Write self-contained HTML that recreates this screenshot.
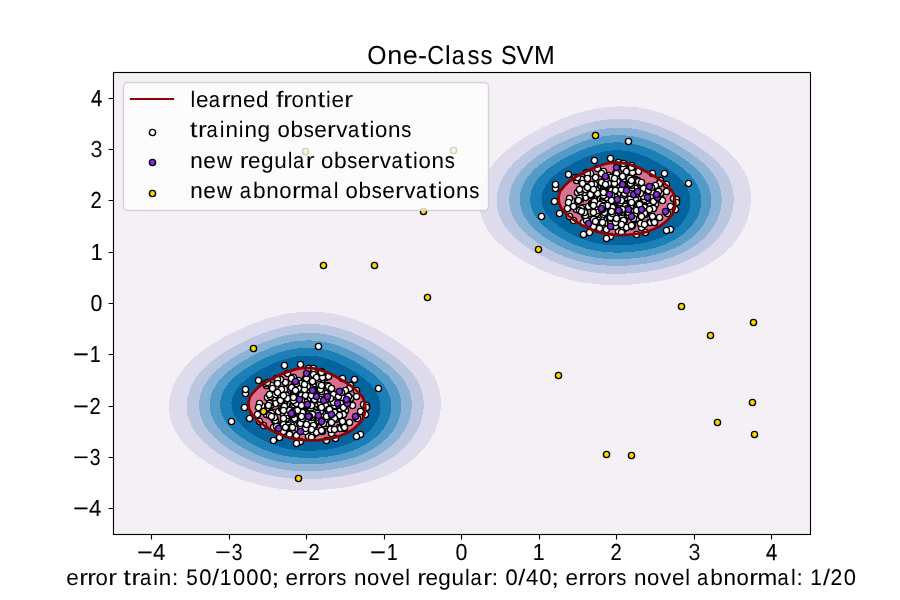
<!DOCTYPE html>
<html><head><meta charset="utf-8"><title>One-Class SVM</title>
<style>
html,body{margin:0;padding:0;background:#fff;}
body{width:900px;height:600px;overflow:hidden;}
svg{display:block;}
text{font-family:"Liberation Sans",sans-serif;font-size:22.4px;fill:#000;text-rendering:geometricPrecision;}
text.k{font-size:23.2px;}
</style></head>
<body>
<svg style="will-change:transform" width="900" height="600" viewBox="0 0 900 600">
<defs><clipPath id="ax"><rect x="112.5" y="72" width="697.5" height="462"/></clipPath></defs>
<rect width="900" height="600" fill="#fff"/>
<g clip-path="url(#ax)">
<g shape-rendering="crispEdges" stroke-width="1.2">
<path fill="#f5eff6" stroke="#f5eff6" d="M43.61 585.33L52.22 585.33L60.83 585.33L69.44 585.33L78.06 585.33L86.67 585.33L95.28 585.33L103.89 585.33L112.5 585.33L121.11 585.33L129.72 585.33L138.33 585.33L146.94 585.33L155.56 585.33L164.17 585.33L172.78 585.33L181.39 585.33L190 585.33L198.61 585.33L207.22 585.33L215.83 585.33L224.44 585.33L233.06 585.33L241.67 585.33L250.28 585.33L258.89 585.33L267.5 585.33L276.11 585.33L284.72 585.33L293.33 585.33L301.94 585.33L310.56 585.33L319.17 585.33L327.78 585.33L336.39 585.33L345 585.33L353.61 585.33L362.22 585.33L370.83 585.33L379.44 585.33L388.06 585.33L396.67 585.33L405.28 585.33L413.89 585.33L422.5 585.33L431.11 585.33L439.72 585.33L448.33 585.33L456.94 585.33L465.56 585.33L474.17 585.33L482.78 585.33L491.39 585.33L500 585.33L508.61 585.33L517.22 585.33L525.83 585.33L534.44 585.33L543.06 585.33L551.67 585.33L560.28 585.33L568.89 585.33L577.5 585.33L586.11 585.33L594.72 585.33L603.33 585.33L611.94 585.33L620.56 585.33L629.17 585.33L637.78 585.33L646.39 585.33L655 585.33L663.61 585.33L672.22 585.33L680.83 585.33L689.44 585.33L698.06 585.33L706.67 585.33L715.28 585.33L723.89 585.33L732.5 585.33L741.11 585.33L749.72 585.33L758.33 585.33L766.94 585.33L775.56 585.33L784.17 585.33L792.78 585.33L801.39 585.33L810 585.33L818.61 585.33L827.22 585.33L835.83 585.33L844.44 585.33L853.06 585.33L861.67 585.33L870.28 585.33L878.89 585.33L887.5 585.33L887.5 579.63L887.5 573.93L887.5 568.22L887.5 562.52L887.5 556.81L887.5 551.11L887.5 545.41L887.5 539.7L887.5 534L887.5 528.3L887.5 522.59L887.5 516.89L887.5 511.19L887.5 505.48L887.5 499.78L887.5 494.07L887.5 488.37L887.5 482.67L887.5 476.96L887.5 471.26L887.5 465.56L887.5 459.85L887.5 454.15L887.5 448.44L887.5 442.74L887.5 437.04L887.5 431.33L887.5 425.63L887.5 419.93L887.5 414.22L887.5 408.52L887.5 402.81L887.5 397.11L887.5 391.41L887.5 385.7L887.5 380L887.5 374.3L887.5 368.59L887.5 362.89L887.5 357.19L887.5 351.48L887.5 345.78L887.5 340.07L887.5 334.37L887.5 328.67L887.5 322.96L887.5 317.26L887.5 311.56L887.5 305.85L887.5 300.15L887.5 294.44L887.5 288.74L887.5 283.04L887.5 277.33L887.5 271.63L887.5 265.93L887.5 260.22L887.5 254.52L887.5 248.81L887.5 243.11L887.5 237.41L887.5 231.7L887.5 226L887.5 220.3L887.5 214.59L887.5 208.89L887.5 203.19L887.5 197.48L887.5 191.78L887.5 186.07L887.5 180.37L887.5 174.67L887.5 168.96L887.5 163.26L887.5 157.56L887.5 151.85L887.5 146.15L887.5 140.44L887.5 134.74L887.5 129.04L887.5 123.33L887.5 117.63L887.5 111.93L887.5 106.22L887.5 100.52L887.5 94.81L887.5 89.11L887.5 83.41L887.5 77.7L887.5 72L887.5 66.3L887.5 60.59L887.5 54.89L887.5 49.19L887.5 43.48L887.5 37.78L887.5 32.07L887.5 26.37L887.5 20.67L878.89 20.67L870.28 20.67L861.67 20.67L853.06 20.67L844.44 20.67L835.83 20.67L827.22 20.67L818.61 20.67L810 20.67L801.39 20.67L792.78 20.67L784.17 20.67L775.56 20.67L766.94 20.67L758.33 20.67L749.72 20.67L741.11 20.67L732.5 20.67L723.89 20.67L715.28 20.67L706.67 20.67L698.06 20.67L689.44 20.67L680.83 20.67L672.22 20.67L663.61 20.67L655 20.67L646.39 20.67L637.78 20.67L629.17 20.67L620.56 20.67L611.94 20.67L603.33 20.67L594.72 20.67L586.11 20.67L577.5 20.67L568.89 20.67L560.28 20.67L551.67 20.67L543.06 20.67L534.44 20.67L525.83 20.67L517.22 20.67L508.61 20.67L500 20.67L491.39 20.67L482.78 20.67L474.17 20.67L465.56 20.67L456.94 20.67L448.33 20.67L439.72 20.67L431.11 20.67L422.5 20.67L413.89 20.67L405.28 20.67L396.67 20.67L388.06 20.67L379.44 20.67L370.83 20.67L362.22 20.67L353.61 20.67L345 20.67L336.39 20.67L327.78 20.67L319.17 20.67L310.56 20.67L301.94 20.67L293.33 20.67L284.72 20.67L276.11 20.67L267.5 20.67L258.89 20.67L250.28 20.67L241.67 20.67L233.06 20.67L224.44 20.67L215.83 20.67L207.22 20.67L198.61 20.67L190 20.67L181.39 20.67L172.78 20.67L164.17 20.67L155.56 20.67L146.94 20.67L138.33 20.67L129.72 20.67L121.11 20.67L112.5 20.67L103.89 20.67L95.28 20.67L86.67 20.67L78.06 20.67L69.44 20.67L60.83 20.67L52.22 20.67L43.61 20.67L35 20.67L35 26.37L35 32.07L35 37.78L35 43.48L35 49.19L35 54.89L35 60.59L35 66.3L35 72L35 77.7L35 83.41L35 89.11L35 94.81L35 100.52L35 106.22L35 111.93L35 117.63L35 123.33L35 129.04L35 134.74L35 140.44L35 146.15L35 151.85L35 157.56L35 163.26L35 168.96L35 174.67L35 180.37L35 186.07L35 191.78L35 197.48L35 203.19L35 208.89L35 214.59L35 220.3L35 226L35 231.7L35 237.41L35 243.11L35 248.81L35 254.52L35 260.22L35 265.93L35 271.63L35 277.33L35 283.04L35 288.74L35 294.44L35 300.15L35 305.85L35 311.56L35 317.26L35 322.96L35 328.67L35 334.37L35 340.07L35 345.78L35 351.48L35 357.19L35 362.89L35 368.59L35 374.3L35 380L35 385.7L35 391.41L35 397.11L35 402.81L35 408.52L35 414.22L35 419.93L35 425.63L35 431.33L35 437.04L35 442.74L35 448.44L35 454.15L35 459.85L35 465.56L35 471.26L35 476.96L35 482.67L35 488.37L35 494.07L35 499.78L35 505.48L35 511.19L35 516.89L35 522.59L35 528.3L35 534L35 539.7L35 545.41L35 551.11L35 556.81L35 562.52L35 568.22L35 573.93L35 579.63L35 585.33ZM282.61 488.37L276.11 487.66L267.5 486.27L258.89 484.3L253.47 482.67L250.28 481.82L241.67 478.98L236.76 476.96L233.06 475.52L224.44 471.46L224.06 471.26L215.83 467.03L213.29 465.56L207.22 461.87L204.14 459.85L198.61 455.86L196.32 454.15L190 448.59L189.84 448.44L184.08 442.74L181.39 439.2L179.61 437.04L175.93 431.33L173.41 425.63L172.78 423.58L171.4 419.93L170.09 414.22L169.55 408.52L169.68 402.81L170.5 397.11L172.04 391.41L172.78 389.56L174.01 385.7L176.55 380L180.14 374.3L181.39 372.68L184.24 368.59L189.51 362.89L190 362.43L195.39 357.19L198.61 354.57L202.5 351.48L207.22 348.15L210.77 345.78L215.83 342.6L220.2 340.07L224.44 337.65L230.85 334.37L233.06 333.22L241.67 329.16L242.83 328.67L250.28 325.3L256.64 322.96L258.89 322.06L267.5 319.09L274.54 317.26L276.11 316.79L284.72 314.73L293.33 313.35L301.94 312.56L310.56 312.3L319.17 312.55L327.78 313.37L336.39 314.84L345 317.14L345.36 317.26L353.61 319.73L361.46 322.96L362.22 323.26L370.83 327.13L373.77 328.67L379.44 331.56L384.36 334.37L388.06 336.47L393.92 340.07L396.67 341.8L402.66 345.78L405.28 347.63L410.55 351.48L413.89 354.23L417.45 357.19L422.5 362.25L423.15 362.89L428.23 368.59L431.11 372.99L432.06 374.3L435.39 380L437.66 385.7L439.13 391.41L439.72 395.41L440.05 397.11L440.45 402.81L440.18 408.52L439.72 411.42L439.39 414.22L438.23 419.93L436.51 425.63L434.11 431.33L431.11 436.61L430.91 437.04L427.59 442.74L423.04 448.44L422.5 449.03L418.03 454.15L413.89 457.87L411.63 459.85L405.28 464.56L403.81 465.56L396.67 469.91L394.05 471.26L388.06 474.27L381.22 476.96L379.44 477.69L370.83 480.68L363.04 482.67L362.22 482.91L353.61 485.03L345 486.6L336.39 487.74L329.91 488.37L327.78 488.64L319.17 489.37L310.56 489.75L301.94 489.78L293.33 489.44L284.72 488.67ZM592.61 283.04L586.11 282.32L577.5 280.94L568.89 278.96L563.47 277.33L560.28 276.49L551.67 273.65L546.76 271.63L543.06 270.19L534.44 266.12L534.06 265.93L525.83 261.69L523.3 260.22L517.22 256.54L514.14 254.52L508.61 250.53L506.33 248.81L500 243.25L499.84 243.11L494.08 237.41L491.39 233.87L489.61 231.7L485.93 226L483.41 220.3L482.78 218.24L481.4 214.59L480.09 208.89L479.55 203.19L479.68 197.48L480.5 191.78L482.04 186.07L482.78 184.23L484.01 180.37L486.55 174.67L490.14 168.96L491.39 167.35L494.24 163.26L499.51 157.56L500 157.09L505.39 151.85L508.61 149.24L512.5 146.15L517.22 142.81L520.77 140.44L525.83 137.26L530.2 134.74L534.44 132.32L540.85 129.04L543.06 127.88L551.67 123.83L552.83 123.33L560.28 119.97L566.64 117.63L568.89 116.72L577.5 113.75L584.54 111.93L586.11 111.45L594.72 109.39L603.33 108.02L611.94 107.23L620.56 106.96L629.17 107.22L637.78 108.04L646.39 109.51L655 111.8L655.36 111.93L663.61 114.4L671.46 117.63L672.22 117.93L680.83 121.79L683.77 123.33L689.44 126.23L694.36 129.04L698.06 131.14L703.91 134.74L706.67 136.47L712.66 140.44L715.28 142.29L720.55 146.15L723.89 148.9L727.45 151.85L732.5 156.92L733.15 157.56L738.23 163.26L741.11 167.66L742.06 168.96L745.39 174.67L747.66 180.37L749.13 186.07L749.72 190.08L750.05 191.78L750.45 197.48L750.18 203.19L749.72 206.07L749.39 208.89L748.22 214.59L746.51 220.3L744.11 226L741.11 231.27L740.9 231.7L737.58 237.41L733.04 243.11L732.5 243.69L728.02 248.81L723.89 252.53L721.63 254.52L715.28 259.23L713.8 260.22L706.67 264.58L704.05 265.93L698.06 268.93L691.21 271.63L689.44 272.36L680.83 275.35L673.04 277.33L672.22 277.57L663.61 279.7L655 281.26L646.39 282.41L639.91 283.04L637.78 283.3L629.17 284.04L620.56 284.42L611.94 284.45L603.33 284.1L594.72 283.33Z"/>
<path fill="#dedcec" stroke="#dedcec" d="M284.72 488.67L293.33 489.44L301.94 489.78L310.56 489.75L319.17 489.37L327.78 488.64L329.91 488.37L336.39 487.74L345 486.6L353.61 485.03L362.22 482.91L363.04 482.67L370.83 480.68L379.44 477.69L381.22 476.96L388.06 474.27L394.05 471.26L396.67 469.91L403.81 465.56L405.28 464.56L411.63 459.85L413.89 457.87L418.03 454.15L422.5 449.03L423.04 448.44L427.59 442.74L430.91 437.04L431.11 436.61L434.11 431.33L436.51 425.63L438.23 419.93L439.39 414.22L439.72 411.42L440.18 408.52L440.45 402.81L440.05 397.11L439.72 395.41L439.13 391.41L437.66 385.7L435.39 380L432.06 374.3L431.11 372.99L428.23 368.59L423.15 362.89L422.5 362.25L417.45 357.19L413.89 354.23L410.55 351.48L405.28 347.63L402.66 345.78L396.67 341.8L393.92 340.07L388.06 336.47L384.36 334.37L379.44 331.56L373.77 328.67L370.83 327.13L362.22 323.26L361.46 322.96L353.61 319.73L345.36 317.26L345 317.14L336.39 314.84L327.78 313.37L319.17 312.55L310.56 312.3L301.94 312.56L293.33 313.35L284.72 314.73L276.11 316.79L274.54 317.26L267.5 319.09L258.89 322.06L256.64 322.96L250.28 325.3L242.83 328.67L241.67 329.16L233.06 333.22L230.85 334.37L224.44 337.65L220.2 340.07L215.83 342.6L210.77 345.78L207.22 348.15L202.5 351.48L198.61 354.57L195.39 357.19L190 362.43L189.51 362.89L184.24 368.59L181.39 372.68L180.14 374.3L176.55 380L174.01 385.7L172.78 389.56L172.04 391.41L170.5 397.11L169.68 402.81L169.55 408.52L170.09 414.22L171.4 419.93L172.78 423.58L173.41 425.63L175.93 431.33L179.61 437.04L181.39 439.2L184.08 442.74L189.84 448.44L190 448.59L196.32 454.15L198.61 455.86L204.14 459.85L207.22 461.87L213.29 465.56L215.83 467.03L224.06 471.26L224.44 471.46L233.06 475.52L236.76 476.96L241.67 478.98L250.28 481.82L253.47 482.67L258.89 484.3L267.5 486.27L276.11 487.66L282.61 488.37ZM283.2 476.96L276.11 475.98L267.5 474.25L258.89 471.85L257.15 471.26L250.28 469.03L241.92 465.56L241.67 465.45L233.06 461.41L230.16 459.85L224.44 456.63L220.47 454.15L215.83 451L212.32 448.44L207.22 444.19L205.54 442.74L199.97 437.04L198.61 435.3L195.44 431.33L192.07 425.63L190 420.53L189.73 419.93L188.04 414.22L187.26 408.52L187.29 402.81L188.12 397.11L189.8 391.41L190 390.95L192.02 385.7L195.15 380L198.61 375.34L199.36 374.3L204.35 368.59L207.22 365.93L210.57 362.89L215.83 358.79L218.03 357.19L224.44 352.9L226.74 351.48L233.06 347.76L236.76 345.78L241.67 343.18L248.24 340.07L250.28 339.1L258.89 335.42L261.76 334.37L267.5 332.17L276.11 329.54L279.83 328.67L284.72 327.4L293.33 325.84L301.94 324.96L310.56 324.72L319.17 325.14L327.78 326.25L336.39 328.15L338.1 328.67L345 330.62L353.61 333.92L354.61 334.37L362.22 337.73L366.77 340.07L370.83 342.17L377.13 345.78L379.44 347.13L386.35 351.48L388.06 352.61L394.57 357.19L396.67 358.8L401.74 362.89L405.28 366.24L407.72 368.59L412.57 374.3L413.89 376.27L416.5 380L419.43 385.7L421.38 391.41L422.5 396.9L422.55 397.11L423.13 402.81L422.95 408.52L422.5 411.39L422.13 414.22L420.79 419.93L418.8 425.63L416.01 431.33L413.89 434.67L412.49 437.04L408.22 442.74L405.28 445.87L402.82 448.44L396.67 453.65L396.03 454.15L388.06 459.51L387.47 459.85L379.44 464.13L376.14 465.56L370.83 467.8L362.22 470.64L359.9 471.26L353.61 473.04L345 474.91L336.39 476.28L330.56 476.96L327.78 477.34L319.17 478.12L310.56 478.51L301.94 478.51L293.33 478.1L284.72 477.21ZM594.72 283.33L603.33 284.1L611.94 284.45L620.56 284.42L629.17 284.04L637.78 283.3L639.91 283.04L646.39 282.41L655 281.26L663.61 279.7L672.22 277.57L673.04 277.33L680.83 275.35L689.44 272.36L691.21 271.63L698.06 268.93L704.05 265.93L706.67 264.58L713.8 260.22L715.28 259.23L721.63 254.52L723.89 252.53L728.02 248.81L732.5 243.69L733.04 243.11L737.58 237.41L740.9 231.7L741.11 231.27L744.11 226L746.51 220.3L748.22 214.59L749.39 208.89L749.72 206.07L750.18 203.19L750.45 197.48L750.05 191.78L749.72 190.08L749.13 186.07L747.66 180.37L745.39 174.67L742.06 168.96L741.11 167.66L738.23 163.26L733.15 157.56L732.5 156.92L727.45 151.85L723.89 148.9L720.55 146.15L715.28 142.29L712.66 140.44L706.67 136.47L703.91 134.74L698.06 131.14L694.36 129.04L689.44 126.23L683.77 123.33L680.83 121.79L672.22 117.93L671.46 117.63L663.61 114.4L655.36 111.93L655 111.8L646.39 109.51L637.78 108.04L629.17 107.22L620.56 106.96L611.94 107.23L603.33 108.02L594.72 109.39L586.11 111.45L584.54 111.93L577.5 113.75L568.89 116.72L566.64 117.63L560.28 119.97L552.83 123.33L551.67 123.83L543.06 127.88L540.85 129.04L534.44 132.32L530.2 134.74L525.83 137.26L520.77 140.44L517.22 142.81L512.5 146.15L508.61 149.24L505.39 151.85L500 157.09L499.51 157.56L494.24 163.26L491.39 167.35L490.14 168.96L486.55 174.67L484.01 180.37L482.78 184.23L482.04 186.07L480.5 191.78L479.68 197.48L479.55 203.19L480.09 208.89L481.4 214.59L482.78 218.24L483.41 220.3L485.93 226L489.61 231.7L491.39 233.87L494.08 237.41L499.84 243.11L500 243.25L506.33 248.81L508.61 250.53L514.14 254.52L517.22 256.54L523.3 260.22L525.83 261.69L534.06 265.93L534.44 266.12L543.06 270.19L546.76 271.63L551.67 273.65L560.28 276.49L563.47 277.33L568.89 278.96L577.5 280.94L586.11 282.32L592.61 283.04ZM593.19 271.63L586.11 270.64L577.5 268.91L568.89 266.52L567.15 265.93L560.28 263.69L551.92 260.22L551.67 260.12L543.06 256.08L540.16 254.52L534.44 251.29L530.47 248.81L525.83 245.66L522.32 243.11L517.22 238.86L515.54 237.41L509.97 231.7L508.61 229.97L505.44 226L502.07 220.3L500 215.2L499.73 214.59L498.04 208.89L497.26 203.19L497.29 197.48L498.12 191.78L499.8 186.07L500 185.62L502.02 180.37L505.15 174.67L508.61 170.01L509.36 168.96L514.35 163.26L517.22 160.59L520.57 157.56L525.83 153.46L528.03 151.85L534.44 147.57L536.74 146.15L543.06 142.43L546.75 140.44L551.67 137.84L558.24 134.74L560.28 133.77L568.89 130.09L571.76 129.04L577.5 126.84L586.11 124.21L589.83 123.33L594.72 122.07L603.33 120.51L611.94 119.63L620.56 119.39L629.17 119.8L637.78 120.91L646.39 122.82L648.1 123.33L655 125.29L663.61 128.59L664.61 129.04L672.22 132.39L676.77 134.74L680.83 136.84L687.12 140.44L689.44 141.8L696.35 146.15L698.06 147.28L704.57 151.85L706.67 153.47L711.74 157.56L715.28 160.91L717.72 163.26L722.57 168.96L723.89 170.93L726.5 174.67L729.43 180.37L731.38 186.07L732.5 191.57L732.55 191.78L733.12 197.48L732.95 203.19L732.5 206.04L732.13 208.89L730.79 214.59L728.79 220.3L726 226L723.89 229.33L722.48 231.7L718.22 237.41L715.28 240.53L712.82 243.11L706.67 248.32L706.03 248.81L698.06 254.18L697.47 254.52L689.44 258.79L686.14 260.22L680.83 262.46L672.22 265.31L669.91 265.93L663.61 267.71L655 269.58L646.39 270.95L640.57 271.63L637.78 272.01L629.17 272.79L620.56 273.18L611.94 273.18L603.33 272.76L594.72 271.87Z"/>
<path fill="#bbc7e0" stroke="#bbc7e0" d="M284.72 477.21L293.33 478.1L301.94 478.51L310.56 478.51L319.17 478.12L327.78 477.34L330.56 476.96L336.39 476.28L345 474.91L353.61 473.04L359.9 471.26L362.22 470.64L370.83 467.8L376.14 465.56L379.44 464.13L387.47 459.85L388.06 459.51L396.03 454.15L396.67 453.65L402.82 448.44L405.28 445.87L408.22 442.74L412.49 437.04L413.89 434.67L416.01 431.33L418.8 425.63L420.79 419.93L422.13 414.22L422.5 411.39L422.95 408.52L423.13 402.81L422.55 397.11L422.5 396.9L421.38 391.41L419.43 385.7L416.5 380L413.89 376.27L412.57 374.3L407.72 368.59L405.28 366.24L401.74 362.89L396.67 358.8L394.57 357.19L388.06 352.61L386.35 351.48L379.44 347.13L377.13 345.78L370.83 342.17L366.77 340.07L362.22 337.73L354.61 334.37L353.61 333.92L345 330.62L338.1 328.67L336.39 328.15L327.78 326.25L319.17 325.14L310.56 324.72L301.94 324.96L293.33 325.84L284.72 327.4L279.83 328.67L276.11 329.54L267.5 332.17L261.76 334.37L258.89 335.42L250.28 339.1L248.24 340.07L241.67 343.18L236.76 345.78L233.06 347.76L226.74 351.48L224.44 352.9L218.03 357.19L215.83 358.79L210.57 362.89L207.22 365.93L204.35 368.59L199.36 374.3L198.61 375.34L195.15 380L192.02 385.7L190 390.95L189.8 391.41L188.12 397.11L187.29 402.81L187.26 408.52L188.04 414.22L189.73 419.93L190 420.53L192.07 425.63L195.44 431.33L198.61 435.3L199.97 437.04L205.54 442.74L207.22 444.19L212.32 448.44L215.83 451L220.47 454.15L224.44 456.63L230.16 459.85L233.06 461.41L241.67 465.45L241.92 465.56L250.28 469.03L257.15 471.26L258.89 471.85L267.5 474.25L276.11 475.98L283.2 476.96ZM267.41 465.56L258.89 462.96L250.93 459.85L250.28 459.59L241.67 455.59L238.96 454.15L233.06 450.79L229.32 448.44L224.44 445.06L221.34 442.74L215.83 437.96L214.82 437.04L209.56 431.33L207.22 428.04L205.52 425.63L202.56 419.93L200.68 414.22L199.76 408.52L199.71 402.81L200.51 397.11L202.2 391.41L204.86 385.7L207.22 382.07L208.55 380L213.26 374.3L215.83 371.77L219.23 368.59L224.44 364.43L226.53 362.89L233.06 358.52L235.21 357.19L241.67 353.43L245.35 351.48L250.28 348.94L257.14 345.78L258.89 344.98L267.5 341.5L271.71 340.07L276.11 338.57L284.72 336.26L293.33 334.67L296.19 334.37L301.94 333.71L310.56 333.49L319.17 334.06L321.12 334.37L327.78 335.36L336.39 337.44L344.13 340.07L345 340.37L353.61 343.94L357.38 345.78L362.22 348.19L368.13 351.48L370.83 353.04L377.48 357.19L379.44 358.49L385.67 362.89L388.06 364.76L392.67 368.59L396.67 372.53L398.4 374.3L402.96 380L405.28 383.87L406.39 385.7L408.89 391.41L410.41 397.11L411.08 402.81L410.99 408.52L410.17 414.22L408.61 419.93L406.24 425.63L405.28 427.37L403.16 431.33L399.17 437.04L396.67 439.87L394.03 442.74L388.06 447.96L387.44 448.44L379.44 453.82L378.88 454.15L370.83 458.3L367.1 459.85L362.22 461.79L353.61 464.48L349.23 465.56L345 466.62L336.39 468.27L327.78 469.46L319.17 470.23L310.56 470.6L301.94 470.58L293.33 470.12L284.72 469.19L276.11 467.71L267.5 465.58ZM594.72 271.87L603.33 272.76L611.94 273.18L620.56 273.18L629.17 272.79L637.78 272.01L640.57 271.63L646.39 270.95L655 269.58L663.61 267.71L669.91 265.93L672.22 265.31L680.83 262.46L686.14 260.22L689.44 258.79L697.47 254.52L698.06 254.18L706.03 248.81L706.67 248.32L712.82 243.11L715.28 240.53L718.22 237.41L722.48 231.7L723.89 229.33L726 226L728.79 220.3L730.79 214.59L732.13 208.89L732.5 206.04L732.95 203.19L733.12 197.48L732.55 191.78L732.5 191.57L731.38 186.07L729.43 180.37L726.5 174.67L723.89 170.93L722.57 168.96L717.72 163.26L715.28 160.91L711.74 157.56L706.67 153.47L704.57 151.85L698.06 147.28L696.35 146.15L689.44 141.8L687.12 140.44L680.83 136.84L676.77 134.74L672.22 132.39L664.61 129.04L663.61 128.59L655 125.29L648.1 123.33L646.39 122.82L637.78 120.91L629.17 119.8L620.56 119.39L611.94 119.63L603.33 120.51L594.72 122.07L589.83 123.33L586.11 124.21L577.5 126.84L571.76 129.04L568.89 130.09L560.28 133.77L558.24 134.74L551.67 137.84L546.75 140.44L543.06 142.43L536.74 146.15L534.44 147.57L528.03 151.85L525.83 153.46L520.57 157.56L517.22 160.59L514.35 163.26L509.36 168.96L508.61 170.01L505.15 174.67L502.02 180.37L500 185.62L499.8 186.07L498.12 191.78L497.29 197.48L497.26 203.19L498.04 208.89L499.73 214.59L500 215.2L502.07 220.3L505.44 226L508.61 229.97L509.97 231.7L515.54 237.41L517.22 238.86L522.32 243.11L525.83 245.66L530.47 248.81L534.44 251.29L540.16 254.52L543.06 256.08L551.67 260.12L551.92 260.22L560.28 263.69L567.15 265.93L568.89 266.52L577.5 268.91L586.11 270.64L593.19 271.63ZM577.42 260.22L568.89 257.63L560.94 254.52L560.28 254.25L551.67 250.25L548.96 248.81L543.06 245.46L539.32 243.11L534.44 239.72L531.35 237.41L525.83 232.62L524.83 231.7L519.56 226L517.22 222.71L515.52 220.3L512.56 214.59L510.68 208.89L509.76 203.19L509.71 197.48L510.51 191.78L512.2 186.07L514.86 180.37L517.22 176.73L518.55 174.67L523.26 168.96L525.83 166.44L529.22 163.26L534.44 159.1L536.53 157.56L543.06 153.18L545.21 151.85L551.67 148.1L555.34 146.15L560.28 143.6L567.14 140.44L568.89 139.65L577.5 136.16L581.71 134.74L586.11 133.23L594.72 130.93L603.33 129.34L606.18 129.04L611.94 128.38L620.56 128.16L629.17 128.73L631.12 129.04L637.78 130.03L646.39 132.1L654.13 134.74L655 135.04L663.61 138.6L667.38 140.44L672.22 142.86L678.12 146.15L680.83 147.71L687.48 151.85L689.44 153.15L695.67 157.56L698.06 159.43L702.66 163.26L706.67 167.19L708.4 168.96L712.96 174.67L715.28 178.54L716.39 180.37L718.89 186.07L720.41 191.78L721.08 197.48L720.99 203.19L720.16 208.89L718.6 214.59L716.23 220.3L715.28 222.03L713.16 226L709.16 231.7L706.67 234.53L704.02 237.41L698.06 242.62L697.44 243.11L689.44 248.49L688.87 248.81L680.83 252.97L677.1 254.52L672.22 256.45L663.61 259.15L659.23 260.22L655 261.28L646.39 262.94L637.78 264.12L629.17 264.89L620.56 265.27L611.94 265.24L603.33 264.79L594.72 263.85L586.11 262.37L577.5 260.25Z"/>
<path fill="#8cb3d5" stroke="#8cb3d5" d="M267.5 465.58L276.11 467.71L284.72 469.19L293.33 470.12L301.94 470.58L310.56 470.6L319.17 470.23L327.78 469.46L336.39 468.27L345 466.62L349.23 465.56L353.61 464.48L362.22 461.79L367.1 459.85L370.83 458.3L378.88 454.15L379.44 453.82L387.44 448.44L388.06 447.96L394.03 442.74L396.67 439.87L399.17 437.04L403.16 431.33L405.28 427.37L406.24 425.63L408.61 419.93L410.17 414.22L410.99 408.52L411.08 402.81L410.41 397.11L408.89 391.41L406.39 385.7L405.28 383.87L402.96 380L398.4 374.3L396.67 372.53L392.67 368.59L388.06 364.76L385.67 362.89L379.44 358.49L377.48 357.19L370.83 353.04L368.13 351.48L362.22 348.19L357.38 345.78L353.61 343.94L345 340.37L344.13 340.07L336.39 337.44L327.78 335.36L321.12 334.37L319.17 334.06L310.56 333.49L301.94 333.71L296.19 334.37L293.33 334.67L284.72 336.26L276.11 338.57L271.71 340.07L267.5 341.5L258.89 344.98L257.14 345.78L250.28 348.94L245.35 351.48L241.67 353.43L235.21 357.19L233.06 358.52L226.53 362.89L224.44 364.43L219.23 368.59L215.83 371.77L213.26 374.3L208.55 380L207.22 382.07L204.86 385.7L202.2 391.41L200.51 397.11L199.71 402.81L199.76 408.52L200.68 414.22L202.56 419.93L205.52 425.63L207.22 428.04L209.56 431.33L214.82 437.04L215.83 437.96L221.34 442.74L224.44 445.06L229.32 448.44L233.06 450.79L238.96 454.15L241.67 455.59L250.28 459.59L250.93 459.85L258.89 462.96L267.41 465.56ZM273.95 459.85L267.5 458.05L258.89 454.99L256.9 454.15L250.28 451.14L245.12 448.44L241.67 446.47L235.78 442.74L233.06 440.8L228.19 437.04L224.44 433.63L222.09 431.33L217.38 425.63L215.83 423.15L213.91 419.93L211.64 414.22L210.46 408.52L210.33 402.81L211.21 397.11L213.13 391.41L215.83 386.3L216.16 385.7L220.35 380L224.44 375.68L225.86 374.3L232.77 368.59L233.06 368.39L241.23 362.89L241.67 362.62L250.28 357.71L251.27 357.19L258.89 353.39L263.17 351.48L267.5 349.62L276.11 346.46L278.41 345.78L284.72 343.94L293.33 342.18L301.94 341.19L310.56 341.01L319.17 341.67L327.78 343.2L336.39 345.6L336.87 345.78L345 348.83L350.82 351.48L353.61 352.81L361.74 357.19L362.22 357.46L370.83 362.75L371.04 362.89L379.01 368.59L379.44 368.93L385.66 374.3L388.06 376.76L390.99 380L395.03 385.7L396.67 388.87L397.93 391.41L399.77 397.11L400.64 402.81L400.62 408.52L399.75 414.22L398.04 419.93L396.67 422.98L395.46 425.63L391.95 431.33L388.06 436.15L387.28 437.04L381.15 442.74L379.44 444.06L372.93 448.44L370.83 449.67L362.22 453.84L361.44 454.15L353.61 457.02L345 459.43L343.09 459.85L336.39 461.28L327.78 462.61L319.17 463.46L310.56 463.87L301.94 463.81L293.33 463.25L284.72 462.15L276.11 460.43ZM577.5 260.25L586.11 262.37L594.72 263.85L603.33 264.79L611.94 265.24L620.56 265.27L629.17 264.89L637.78 264.12L646.39 262.94L655 261.28L659.23 260.22L663.61 259.15L672.22 256.45L677.1 254.52L680.83 252.97L688.87 248.81L689.44 248.49L697.44 243.11L698.06 242.62L704.02 237.41L706.67 234.53L709.16 231.7L713.16 226L715.28 222.03L716.23 220.3L718.6 214.59L720.16 208.89L720.99 203.19L721.08 197.48L720.41 191.78L718.89 186.07L716.39 180.37L715.28 178.54L712.96 174.67L708.4 168.96L706.67 167.19L702.66 163.26L698.06 159.43L695.67 157.56L689.44 153.15L687.48 151.85L680.83 147.71L678.12 146.15L672.22 142.86L667.38 140.44L663.61 138.6L655 135.04L654.13 134.74L646.39 132.1L637.78 130.03L631.12 129.04L629.17 128.73L620.56 128.16L611.94 128.38L606.18 129.04L603.33 129.34L594.72 130.93L586.11 133.23L581.71 134.74L577.5 136.16L568.89 139.65L567.14 140.44L560.28 143.6L555.34 146.15L551.67 148.1L545.21 151.85L543.06 153.18L536.53 157.56L534.44 159.1L529.22 163.26L525.83 166.44L523.26 168.96L518.55 174.67L517.22 176.73L514.86 180.37L512.2 186.07L510.51 191.78L509.71 197.48L509.76 203.19L510.68 208.89L512.56 214.59L515.52 220.3L517.22 222.71L519.56 226L524.83 231.7L525.83 232.62L531.35 237.41L534.44 239.72L539.32 243.11L543.06 245.46L548.96 248.81L551.67 250.25L560.28 254.25L560.94 254.52L568.89 257.63L577.42 260.22ZM583.95 254.52L577.5 252.72L568.89 249.65L566.91 248.81L560.28 245.81L555.12 243.11L551.67 241.14L545.79 237.41L543.06 235.47L538.2 231.7L534.44 228.3L532.09 226L527.38 220.3L525.83 217.82L523.91 214.59L521.64 208.89L520.47 203.19L520.33 197.48L521.21 191.78L523.13 186.07L525.83 180.96L526.16 180.37L530.35 174.67L534.44 170.34L535.86 168.96L542.77 163.26L543.06 163.05L551.23 157.56L551.67 157.28L560.28 152.37L561.27 151.85L568.89 148.06L573.17 146.15L577.5 144.29L586.11 141.13L588.41 140.44L594.72 138.61L603.33 136.84L611.94 135.85L620.56 135.68L629.17 136.34L637.78 137.86L646.39 140.27L646.87 140.44L655 143.49L660.82 146.15L663.61 147.48L671.74 151.85L672.22 152.13L680.83 157.42L681.03 157.56L689.01 163.26L689.44 163.6L695.66 168.96L698.06 171.43L700.99 174.67L705.03 180.37L706.67 183.54L707.93 186.07L709.77 191.78L710.63 197.48L710.61 203.19L709.75 208.89L708.04 214.59L706.67 217.63L705.45 220.3L701.95 226L698.06 230.8L697.27 231.7L691.14 237.41L689.44 238.72L682.93 243.11L680.83 244.33L672.22 248.5L671.44 248.81L663.61 251.68L655 254.1L653.09 254.52L646.39 255.95L637.78 257.27L629.17 258.13L620.56 258.54L611.94 258.48L603.33 257.92L594.72 256.82L586.11 255.1Z"/>
<path fill="#549cc7" stroke="#549cc7" d="M276.11 460.43L284.72 462.15L293.33 463.25L301.94 463.81L310.56 463.87L319.17 463.46L327.78 462.61L336.39 461.28L343.09 459.85L345 459.43L353.61 457.02L361.44 454.15L362.22 453.84L370.83 449.67L372.93 448.44L379.44 444.06L381.15 442.74L387.28 437.04L388.06 436.15L391.95 431.33L395.46 425.63L396.67 422.98L398.04 419.93L399.75 414.22L400.62 408.52L400.64 402.81L399.77 397.11L397.93 391.41L396.67 388.87L395.03 385.7L390.99 380L388.06 376.76L385.66 374.3L379.44 368.93L379.01 368.59L371.04 362.89L370.83 362.75L362.22 357.46L361.74 357.19L353.61 352.81L350.82 351.48L345 348.83L336.87 345.78L336.39 345.6L327.78 343.2L319.17 341.67L310.56 341.01L301.94 341.19L293.33 342.18L284.72 343.94L278.41 345.78L276.11 346.46L267.5 349.62L263.17 351.48L258.89 353.39L251.27 357.19L250.28 357.71L241.67 362.62L241.23 362.89L233.06 368.39L232.77 368.59L225.86 374.3L224.44 375.68L220.35 380L216.16 385.7L215.83 386.3L213.13 391.41L211.21 397.11L210.33 402.81L210.46 408.52L211.64 414.22L213.91 419.93L215.83 423.15L217.38 425.63L222.09 431.33L224.44 433.63L228.19 437.04L233.06 440.8L235.78 442.74L241.67 446.47L245.12 448.44L250.28 451.14L256.9 454.15L258.89 454.99L267.5 458.05L273.95 459.85ZM279.72 454.15L276.11 453.26L267.5 450.48L262.38 448.44L258.89 446.89L250.77 442.74L250.28 442.46L241.82 437.04L241.67 436.93L234.76 431.33L233.06 429.71L229.23 425.63L225.08 419.93L224.44 418.69L222.37 414.22L220.95 408.52L220.72 402.81L221.67 397.11L223.81 391.41L224.44 390.32L227.38 385.7L232.24 380L233.06 379.22L238.79 374.3L241.67 372.15L246.96 368.59L250.28 366.55L256.8 362.89L258.89 361.79L267.5 357.68L268.66 357.19L276.11 354.25L284.57 351.48L284.72 351.43L293.33 349.53L301.94 348.46L310.56 348.31L319.17 349.12L327.78 350.87L329.79 351.48L336.39 353.65L344.91 357.19L345 357.23L353.61 361.67L355.76 362.89L362.22 366.81L364.92 368.59L370.83 372.84L372.68 374.3L378.99 380L379.44 380.49L383.74 385.7L387.24 391.41L388.06 393.36L389.46 397.11L390.55 402.81L390.62 408.52L389.74 414.22L388.06 419.45L387.89 419.93L384.92 425.63L380.88 431.33L379.44 432.92L375.23 437.04L370.83 440.53L367.54 442.74L362.22 445.77L356.45 448.44L353.61 449.61L345 452.41L338.02 454.15L336.39 454.52L327.78 455.97L319.17 456.9L310.56 457.32L301.94 457.22L293.33 456.55L284.72 455.26ZM586.11 255.1L594.72 256.82L603.33 257.92L611.94 258.48L620.56 258.54L629.17 258.13L637.78 257.27L646.39 255.95L653.09 254.52L655 254.1L663.61 251.68L671.44 248.81L672.22 248.5L680.83 244.33L682.93 243.11L689.44 238.72L691.14 237.41L697.27 231.7L698.06 230.8L701.95 226L705.45 220.3L706.67 217.63L708.04 214.59L709.75 208.89L710.61 203.19L710.63 197.48L709.77 191.78L707.93 186.07L706.67 183.54L705.03 180.37L700.99 174.67L698.06 171.43L695.66 168.96L689.44 163.6L689.01 163.26L681.03 157.56L680.83 157.42L672.22 152.13L671.74 151.85L663.61 147.48L660.82 146.15L655 143.49L646.87 140.44L646.39 140.27L637.78 137.86L629.17 136.34L620.56 135.68L611.94 135.85L603.33 136.84L594.72 138.61L588.41 140.44L586.11 141.13L577.5 144.29L573.17 146.15L568.89 148.06L561.27 151.85L560.28 152.37L551.67 157.28L551.23 157.56L543.06 163.05L542.77 163.26L535.86 168.96L534.44 170.34L530.35 174.67L526.16 180.37L525.83 180.96L523.13 186.07L521.21 191.78L520.33 197.48L520.47 203.19L521.64 208.89L523.91 214.59L525.83 217.82L527.38 220.3L532.09 226L534.44 228.3L538.2 231.7L543.06 235.47L545.79 237.41L551.67 241.14L555.12 243.11L560.28 245.81L566.91 248.81L568.89 249.65L577.5 252.72L583.95 254.52ZM589.72 248.81L586.11 247.92L577.5 245.15L572.38 243.11L568.89 241.56L560.77 237.41L560.28 237.12L551.83 231.7L551.67 231.59L544.76 226L543.06 224.37L539.23 220.3L535.08 214.59L534.44 213.36L532.38 208.89L530.95 203.19L530.72 197.48L531.67 191.78L533.81 186.07L534.44 184.98L537.38 180.37L542.23 174.67L543.06 173.88L548.79 168.96L551.67 166.81L556.95 163.26L560.28 161.22L566.8 157.56L568.89 156.46L577.5 152.35L578.66 151.85L586.11 148.91L594.56 146.15L594.72 146.1L603.33 144.19L611.94 143.13L620.56 142.98L629.17 143.79L637.78 145.54L639.79 146.15L646.39 148.32L654.9 151.85L655 151.9L663.61 156.34L665.76 157.56L672.22 161.48L674.92 163.26L680.83 167.51L682.68 168.96L688.99 174.67L689.44 175.15L693.73 180.37L697.24 186.07L698.06 188.03L699.46 191.78L700.54 197.48L700.62 203.19L699.73 208.89L698.06 214.09L697.88 214.59L694.92 220.3L690.87 226L689.44 227.58L685.22 231.7L680.83 235.19L677.53 237.41L672.22 240.43L666.44 243.11L663.61 244.27L655 247.07L648.02 248.81L646.39 249.19L637.78 250.64L629.17 251.57L620.56 251.99L611.94 251.89L603.33 251.21L594.72 249.93Z"/>
<path fill="#1c7fb8" stroke="#1c7fb8" d="M284.72 455.26L293.33 456.55L301.94 457.22L310.56 457.32L319.17 456.9L327.78 455.97L336.39 454.52L338.02 454.15L345 452.41L353.61 449.61L356.45 448.44L362.22 445.77L367.54 442.74L370.83 440.53L375.23 437.04L379.44 432.92L380.88 431.33L384.92 425.63L387.89 419.93L388.06 419.45L389.74 414.22L390.62 408.52L390.55 402.81L389.46 397.11L388.06 393.36L387.24 391.41L383.74 385.7L379.44 380.49L378.99 380L372.68 374.3L370.83 372.84L364.92 368.59L362.22 366.81L355.76 362.89L353.61 361.67L345 357.23L344.91 357.19L336.39 353.65L329.79 351.48L327.78 350.87L319.17 349.12L310.56 348.31L301.94 348.46L293.33 349.53L284.72 351.43L284.57 351.48L276.11 354.25L268.66 357.19L267.5 357.68L258.89 361.79L256.8 362.89L250.28 366.55L246.96 368.59L241.67 372.15L238.79 374.3L233.06 379.22L232.24 380L227.38 385.7L224.44 390.32L223.81 391.41L221.67 397.11L220.72 402.81L220.95 408.52L222.37 414.22L224.44 418.69L225.08 419.93L229.23 425.63L233.06 429.71L234.76 431.33L241.67 436.93L241.82 437.04L250.28 442.46L250.77 442.74L258.89 446.89L262.38 448.44L267.5 450.48L276.11 453.26L279.72 454.15ZM288.77 448.44L284.72 447.6L276.11 445.09L269.68 442.74L267.5 441.79L258.89 437.48L258.11 437.04L250.28 431.95L249.44 431.33L242.71 425.63L241.67 424.58L237.8 419.93L234.3 414.22L233.06 410.77L232.39 408.52L232.05 402.81L233.06 397.21L233.08 397.11L235.91 391.41L240.11 385.7L241.67 384.09L246.3 380L250.28 376.98L254.3 374.3L258.89 371.52L264.18 368.59L267.5 366.92L276.11 362.92L276.18 362.89L284.72 359.93L293.33 357.6L296.01 357.19L301.94 356.41L310.56 356.31L318.59 357.19L319.17 357.26L327.78 359.55L336.39 362.66L336.9 362.89L345 366.93L348.04 368.59L353.61 371.93L357.24 374.3L362.22 377.84L364.91 380L370.83 385.45L371.07 385.7L375.22 391.41L378.16 397.11L379.44 401.61L379.73 402.81L379.95 408.52L379.44 411.8L379.01 414.22L376.76 419.93L373.37 425.63L370.83 428.76L368.34 431.33L362.22 436.36L361.21 437.04L353.61 441.21L350.14 442.74L345 444.64L336.39 447.09L329.97 448.44L327.78 448.84L319.17 449.81L310.56 450.22L301.94 450.04L293.33 449.22ZM594.72 249.93L603.33 251.21L611.94 251.89L620.56 251.99L629.17 251.57L637.78 250.64L646.39 249.19L648.02 248.81L655 247.07L663.61 244.27L666.44 243.11L672.22 240.43L677.53 237.41L680.83 235.19L685.22 231.7L689.44 227.58L690.87 226L694.92 220.3L697.88 214.59L698.06 214.09L699.73 208.89L700.62 203.19L700.54 197.48L699.46 191.78L698.06 188.03L697.24 186.07L693.73 180.37L689.44 175.15L688.99 174.67L682.68 168.96L680.83 167.51L674.92 163.26L672.22 161.48L665.76 157.56L663.61 156.34L655 151.9L654.9 151.85L646.39 148.32L639.79 146.15L637.78 145.54L629.17 143.79L620.56 142.98L611.94 143.13L603.33 144.19L594.72 146.1L594.56 146.15L586.11 148.91L578.66 151.85L577.5 152.35L568.89 156.46L566.8 157.56L560.28 161.22L556.95 163.26L551.67 166.81L548.79 168.96L543.06 173.88L542.23 174.67L537.38 180.37L534.44 184.98L533.81 186.07L531.67 191.78L530.72 197.48L530.95 203.19L532.38 208.89L534.44 213.36L535.08 214.59L539.23 220.3L543.06 224.37L544.76 226L551.67 231.59L551.83 231.7L560.28 237.12L560.77 237.41L568.89 241.56L572.38 243.11L577.5 245.15L586.11 247.92L589.72 248.81ZM598.78 243.11L594.72 242.26L586.11 239.75L579.69 237.41L577.5 236.45L568.89 232.14L568.12 231.7L560.28 226.61L559.44 226L552.71 220.3L551.67 219.24L547.8 214.59L544.3 208.89L543.06 205.43L542.39 203.19L542.05 197.48L543.06 191.87L543.08 191.78L545.91 186.07L550.11 180.37L551.67 178.75L556.3 174.67L560.28 171.64L564.29 168.96L568.89 166.19L574.18 163.26L577.5 161.58L586.11 157.58L586.17 157.56L594.72 154.6L603.33 152.27L606 151.85L611.94 151.08L620.56 150.97L628.59 151.85L629.17 151.93L637.78 154.22L646.39 157.33L646.9 157.56L655 161.59L658.03 163.26L663.61 166.59L667.24 168.96L672.22 172.5L674.9 174.67L680.83 180.12L681.07 180.37L685.21 186.07L688.15 191.78L689.44 196.3L689.72 197.48L689.94 203.19L689.44 206.42L689 208.89L686.75 214.59L683.36 220.3L680.83 223.41L678.33 226L672.22 231.02L671.2 231.7L663.61 235.88L660.13 237.41L655 239.31L646.39 241.76L639.97 243.11L637.78 243.51L629.17 244.48L620.56 244.89L611.94 244.7L603.33 243.89Z"/>
<path fill="#04649e" stroke="#04649e" d="M293.33 449.22L301.94 450.04L310.56 450.22L319.17 449.81L327.78 448.84L329.97 448.44L336.39 447.09L345 444.64L350.14 442.74L353.61 441.21L361.21 437.04L362.22 436.36L368.34 431.33L370.83 428.76L373.37 425.63L376.76 419.93L379.01 414.22L379.44 411.8L379.95 408.52L379.73 402.81L379.44 401.61L378.16 397.11L375.22 391.41L371.07 385.7L370.83 385.45L364.91 380L362.22 377.84L357.24 374.3L353.61 371.93L348.04 368.59L345 366.93L336.9 362.89L336.39 362.66L327.78 359.55L319.17 357.26L318.59 357.19L310.56 356.31L301.94 356.41L296.01 357.19L293.33 357.6L284.72 359.93L276.18 362.89L276.11 362.92L267.5 366.92L264.18 368.59L258.89 371.52L254.3 374.3L250.28 376.98L246.3 380L241.67 384.09L240.11 385.7L235.91 391.41L233.08 397.11L233.06 397.21L232.05 402.81L232.39 408.52L233.06 410.77L234.3 414.22L237.8 419.93L241.67 424.58L242.71 425.63L249.44 431.33L250.28 431.95L258.11 437.04L258.89 437.48L267.5 441.79L269.68 442.74L276.11 445.09L284.72 447.6L288.77 448.44ZM286.88 437.04L284.72 436.25L276.11 432.57L273.53 431.33L267.5 427.74L264.29 425.63L258.89 421.64L257.02 419.93L251.94 414.22L250.28 411.57L249.04 408.52L248.48 402.81L249.79 397.11L250.28 396.22L254.2 391.41L258.89 386.87L260.57 385.7L267.5 381.31L269.84 380L276.11 376.86L281.16 374.3L284.72 372.86L293.33 369.85L298.61 368.59L301.94 368.09L310.56 368.02L314.52 368.59L319.17 369.65L327.78 372.8L331.19 374.3L336.39 377.09L341.65 380L345 381.95L350.57 385.7L353.61 387.8L357.42 391.41L362.22 396.67L362.5 397.11L364.67 402.81L365.37 408.52L364.54 414.22L362.3 419.93L362.22 420.04L357.31 425.63L353.61 428.85L349.86 431.33L345 433.83L337.02 437.04L336.39 437.23L327.78 438.99L319.17 440.06L310.56 440.39L301.94 439.88L293.33 438.56ZM603.33 243.89L611.94 244.7L620.56 244.89L629.17 244.48L637.78 243.51L639.97 243.11L646.39 241.76L655 239.31L660.13 237.41L663.61 235.88L671.2 231.7L672.22 231.02L678.33 226L680.83 223.41L683.36 220.3L686.75 214.59L689 208.89L689.44 206.42L689.94 203.19L689.72 197.48L689.44 196.3L688.15 191.78L685.21 186.07L681.07 180.37L680.83 180.12L674.9 174.67L672.22 172.5L667.24 168.96L663.61 166.59L658.03 163.26L655 161.59L646.9 157.56L646.39 157.33L637.78 154.22L629.17 151.93L628.59 151.85L620.56 150.97L611.94 151.08L606 151.85L603.33 152.27L594.72 154.6L586.17 157.56L586.11 157.58L577.5 161.58L574.18 163.26L568.89 166.19L564.29 168.96L560.28 171.64L556.3 174.67L551.67 178.75L550.11 180.37L545.91 186.07L543.08 191.78L543.06 191.87L542.05 197.48L542.39 203.19L543.06 205.43L544.3 208.89L547.8 214.59L551.67 219.24L552.71 220.3L559.44 226L560.28 226.61L568.12 231.7L568.89 232.14L577.5 236.45L579.69 237.41L586.11 239.75L594.72 242.26L598.78 243.11ZM596.89 231.7L594.72 230.91L586.11 227.24L583.54 226L577.5 222.4L574.3 220.3L568.89 216.3L567.03 214.59L561.95 208.89L560.28 206.23L559.04 203.19L558.48 197.48L559.79 191.78L560.28 190.89L564.2 186.07L568.89 181.54L570.56 180.37L577.5 175.97L579.83 174.67L586.11 171.52L591.15 168.96L594.72 167.52L603.33 164.51L608.59 163.26L611.94 162.75L620.56 162.69L624.52 163.26L629.17 164.32L637.78 167.46L641.18 168.96L646.39 171.76L651.64 174.67L655 176.63L660.56 180.37L663.61 182.47L667.41 186.07L672.22 191.35L672.49 191.78L674.66 197.48L675.36 203.19L674.53 208.89L672.29 214.59L672.22 214.69L667.29 220.3L663.61 223.5L659.84 226L655 228.49L647.01 231.7L646.39 231.9L637.78 233.66L629.17 234.73L620.56 235.05L611.94 234.54L603.33 233.22Z"/>
<path fill="#034871" stroke="#034871" d="M293.33 438.56L301.94 439.88L310.56 440.39L319.17 440.06L327.78 438.99L336.39 437.23L337.02 437.04L345 433.83L349.86 431.33L353.61 428.85L357.31 425.63L362.22 420.04L362.3 419.93L364.54 414.22L365.37 408.52L364.67 402.81L362.5 397.11L362.22 396.67L357.42 391.41L353.61 387.8L350.57 385.7L345 381.95L341.65 380L336.39 377.09L331.19 374.3L327.78 372.8L319.17 369.65L314.52 368.59L310.56 368.02L301.94 368.09L298.61 368.59L293.33 369.85L284.72 372.86L281.16 374.3L276.11 376.86L269.84 380L267.5 381.31L260.57 385.7L258.89 386.87L254.2 391.41L250.28 396.22L249.79 397.11L248.48 402.81L249.04 408.52L250.28 411.57L251.94 414.22L257.02 419.93L258.89 421.64L264.29 425.63L267.5 427.74L273.53 431.33L276.11 432.57L284.72 436.25L286.88 437.04ZM603.33 233.22L611.94 234.54L620.56 235.05L629.17 234.73L637.78 233.66L646.39 231.9L647.01 231.7L655 228.49L659.84 226L663.61 223.5L667.29 220.3L672.22 214.69L672.29 214.59L674.53 208.89L675.36 203.19L674.66 197.48L672.49 191.78L672.22 191.35L667.41 186.07L663.61 182.47L660.56 180.37L655 176.63L651.64 174.67L646.39 171.76L641.18 168.96L637.78 167.46L629.17 164.32L624.52 163.26L620.56 162.69L611.94 162.75L608.59 163.26L603.33 164.51L594.72 167.52L591.15 168.96L586.11 171.52L579.83 174.67L577.5 175.97L570.56 180.37L568.89 181.54L564.2 186.07L560.28 190.89L559.79 191.78L558.48 197.48L559.04 203.19L560.28 206.23L561.95 208.89L567.03 214.59L568.89 216.3L574.3 220.3L577.5 222.4L583.54 226L586.11 227.24L594.72 230.91L596.89 231.7Z"/>
<path fill="#db7093" stroke="#db7093" d="M293.33 438.56L301.94 439.88L310.56 440.39L319.17 440.06L327.78 438.99L336.39 437.23L337.02 437.04L345 433.83L349.86 431.33L353.61 428.85L357.31 425.63L362.22 420.04L362.3 419.93L364.54 414.22L365.37 408.52L364.67 402.81L362.5 397.11L362.22 396.67L357.42 391.41L353.61 387.8L350.57 385.7L345 381.95L341.65 380L336.39 377.09L331.19 374.3L327.78 372.8L319.17 369.65L314.52 368.59L310.56 368.02L301.94 368.09L298.61 368.59L293.33 369.85L284.72 372.86L281.16 374.3L276.11 376.86L269.84 380L267.5 381.31L260.57 385.7L258.89 386.87L254.2 391.41L250.28 396.22L249.79 397.11L248.48 402.81L249.04 408.52L250.28 411.57L251.94 414.22L257.02 419.93L258.89 421.64L264.29 425.63L267.5 427.74L273.53 431.33L276.11 432.57L284.72 436.25L286.88 437.04ZM334.66 419.93L336.39 417.87L338.53 419.93L336.39 421.07ZM603.33 233.22L611.94 234.54L620.56 235.05L629.17 234.73L637.78 233.66L646.39 231.9L647.01 231.7L655 228.49L659.84 226L663.61 223.5L667.29 220.3L672.22 214.69L672.29 214.59L674.53 208.89L675.36 203.19L674.66 197.48L672.49 191.78L672.22 191.35L667.41 186.07L663.61 182.47L660.56 180.37L655 176.63L651.64 174.67L646.39 171.76L641.18 168.96L637.78 167.46L629.17 164.32L624.52 163.26L620.56 162.69L611.94 162.75L608.59 163.26L603.33 164.51L594.72 167.52L591.15 168.96L586.11 171.52L579.83 174.67L577.5 175.97L570.56 180.37L568.89 181.54L564.2 186.07L560.28 190.89L559.79 191.78L558.48 197.48L559.04 203.19L560.28 206.23L561.95 208.89L567.03 214.59L568.89 216.3L574.3 220.3L577.5 222.4L583.54 226L586.11 227.24L594.72 230.91L596.89 231.7ZM644.76 214.59L646.39 212.66L648.4 214.59L646.39 215.68Z"/>
</g>
<g stroke="#000" stroke-width="1.39">
<g fill="#ffffff"><circle cx="628.5" cy="203.5" r="3.1"/><circle cx="631.5" cy="177.5" r="3.1"/><circle cx="611.5" cy="204.5" r="3.1"/><circle cx="653.5" cy="189.5" r="3.1"/><circle cx="605.5" cy="192.5" r="3.1"/><circle cx="606.5" cy="208.5" r="3.1"/><circle cx="622.5" cy="230.5" r="3.1"/><circle cx="576.5" cy="209.5" r="3.1"/><circle cx="593.5" cy="196.5" r="3.1"/><circle cx="595.5" cy="222.5" r="3.1"/><circle cx="650.5" cy="204.5" r="3.1"/><circle cx="618.5" cy="222.5" r="3.1"/><circle cx="604.5" cy="199.5" r="3.1"/><circle cx="590.5" cy="195.5" r="3.1"/><circle cx="602.5" cy="205.5" r="3.1"/><circle cx="602.5" cy="172.5" r="3.1"/><circle cx="616.5" cy="217.5" r="3.1"/><circle cx="635.5" cy="219.5" r="3.1"/><circle cx="621.5" cy="231.5" r="3.1"/><circle cx="585.5" cy="197.5" r="3.1"/><circle cx="633.5" cy="198.5" r="3.1"/><circle cx="614.5" cy="205.5" r="3.1"/><circle cx="582.5" cy="211.5" r="3.1"/><circle cx="606.5" cy="184.5" r="3.1"/><circle cx="624.5" cy="228.5" r="3.1"/><circle cx="624.5" cy="206.5" r="3.1"/><circle cx="601.5" cy="191.5" r="3.1"/><circle cx="640.5" cy="186.5" r="3.1"/><circle cx="597.5" cy="205.5" r="3.1"/><circle cx="624.5" cy="185.5" r="3.1"/><circle cx="605.5" cy="203.5" r="3.1"/><circle cx="591.5" cy="219.5" r="3.1"/><circle cx="635.5" cy="179.5" r="3.1"/><circle cx="615.5" cy="185.5" r="3.1"/><circle cx="625.5" cy="210.5" r="3.1"/><circle cx="625.5" cy="177.5" r="3.1"/><circle cx="615.5" cy="176.5" r="3.1"/><circle cx="555.5" cy="188.5" r="3.1"/><circle cx="618.5" cy="205.5" r="3.1"/><circle cx="618.5" cy="231.5" r="3.1"/><circle cx="611.5" cy="195.5" r="3.1"/><circle cx="651.5" cy="208.5" r="3.1"/><circle cx="598.5" cy="208.5" r="3.1"/><circle cx="638.5" cy="195.5" r="3.1"/><circle cx="604.5" cy="192.5" r="3.1"/><circle cx="619.5" cy="185.5" r="3.1"/><circle cx="600.5" cy="205.5" r="3.1"/><circle cx="607.5" cy="223.5" r="3.1"/><circle cx="623.5" cy="196.5" r="3.1"/><circle cx="616.5" cy="204.5" r="3.1"/><circle cx="583.5" cy="207.5" r="3.1"/><circle cx="608.5" cy="213.5" r="3.1"/><circle cx="613.5" cy="194.5" r="3.1"/><circle cx="660.5" cy="198.5" r="3.1"/><circle cx="622.5" cy="202.5" r="3.1"/><circle cx="572.5" cy="201.5" r="3.1"/><circle cx="618.5" cy="162.5" r="3.1"/><circle cx="612.5" cy="196.5" r="3.1"/><circle cx="615.5" cy="218.5" r="3.1"/><circle cx="643.5" cy="189.5" r="3.1"/><circle cx="635.5" cy="214.5" r="3.1"/><circle cx="649.5" cy="222.5" r="3.1"/><circle cx="630.5" cy="167.5" r="3.1"/><circle cx="593.5" cy="209.5" r="3.1"/><circle cx="619.5" cy="208.5" r="3.1"/><circle cx="580.5" cy="199.5" r="3.1"/><circle cx="592.5" cy="193.5" r="3.1"/><circle cx="595.5" cy="177.5" r="3.1"/><circle cx="598.5" cy="205.5" r="3.1"/><circle cx="635.5" cy="219.5" r="3.1"/><circle cx="622.5" cy="180.5" r="3.1"/><circle cx="579.5" cy="198.5" r="3.1"/><circle cx="622.5" cy="188.5" r="3.1"/><circle cx="588.5" cy="221.5" r="3.1"/><circle cx="628.5" cy="196.5" r="3.1"/><circle cx="622.5" cy="195.5" r="3.1"/><circle cx="600.5" cy="197.5" r="3.1"/><circle cx="623.5" cy="211.5" r="3.1"/><circle cx="660.5" cy="193.5" r="3.1"/><circle cx="589.5" cy="190.5" r="3.1"/><circle cx="594.5" cy="188.5" r="3.1"/><circle cx="643.5" cy="213.5" r="3.1"/><circle cx="639.5" cy="194.5" r="3.1"/><circle cx="635.5" cy="171.5" r="3.1"/><circle cx="611.5" cy="212.5" r="3.1"/><circle cx="596.5" cy="213.5" r="3.1"/><circle cx="615.5" cy="195.5" r="3.1"/><circle cx="623.5" cy="188.5" r="3.1"/><circle cx="617.5" cy="178.5" r="3.1"/><circle cx="610.5" cy="158.5" r="3.1"/><circle cx="631.5" cy="214.5" r="3.1"/><circle cx="591.5" cy="193.5" r="3.1"/><circle cx="611.5" cy="189.5" r="3.1"/><circle cx="627.5" cy="202.5" r="3.1"/><circle cx="597.5" cy="224.5" r="3.1"/><circle cx="606.5" cy="187.5" r="3.1"/><circle cx="621.5" cy="220.5" r="3.1"/><circle cx="620.5" cy="194.5" r="3.1"/><circle cx="596.5" cy="198.5" r="3.1"/><circle cx="618.5" cy="218.5" r="3.1"/><circle cx="625.5" cy="192.5" r="3.1"/><circle cx="641.5" cy="184.5" r="3.1"/><circle cx="584.5" cy="215.5" r="3.1"/><circle cx="628.5" cy="192.5" r="3.1"/><circle cx="628.5" cy="141.5" r="3.1"/><circle cx="630.5" cy="183.5" r="3.1"/><circle cx="638.5" cy="190.5" r="3.1"/><circle cx="609.5" cy="189.5" r="3.1"/><circle cx="598.5" cy="204.5" r="3.1"/><circle cx="605.5" cy="199.5" r="3.1"/><circle cx="670.5" cy="229.5" r="3.1"/><circle cx="632.5" cy="225.5" r="3.1"/><circle cx="605.5" cy="184.5" r="3.1"/><circle cx="618.5" cy="217.5" r="3.1"/><circle cx="600.5" cy="190.5" r="3.1"/><circle cx="599.5" cy="197.5" r="3.1"/><circle cx="617.5" cy="210.5" r="3.1"/><circle cx="666.5" cy="191.5" r="3.1"/><circle cx="569.5" cy="198.5" r="3.1"/><circle cx="601.5" cy="187.5" r="3.1"/><circle cx="598.5" cy="202.5" r="3.1"/><circle cx="628.5" cy="187.5" r="3.1"/><circle cx="588.5" cy="206.5" r="3.1"/><circle cx="605.5" cy="210.5" r="3.1"/><circle cx="657.5" cy="194.5" r="3.1"/><circle cx="587.5" cy="186.5" r="3.1"/><circle cx="666.5" cy="184.5" r="3.1"/><circle cx="581.5" cy="208.5" r="3.1"/><circle cx="646.5" cy="211.5" r="3.1"/><circle cx="627.5" cy="188.5" r="3.1"/><circle cx="595.5" cy="201.5" r="3.1"/><circle cx="541.5" cy="216.5" r="3.1"/><circle cx="610.5" cy="220.5" r="3.1"/><circle cx="654.5" cy="222.5" r="3.1"/><circle cx="606.5" cy="198.5" r="3.1"/><circle cx="650.5" cy="222.5" r="3.1"/><circle cx="643.5" cy="200.5" r="3.1"/><circle cx="593.5" cy="193.5" r="3.1"/><circle cx="621.5" cy="210.5" r="3.1"/><circle cx="618.5" cy="206.5" r="3.1"/><circle cx="619.5" cy="190.5" r="3.1"/><circle cx="653.5" cy="219.5" r="3.1"/><circle cx="666.5" cy="230.5" r="3.1"/><circle cx="613.5" cy="191.5" r="3.1"/><circle cx="623.5" cy="210.5" r="3.1"/><circle cx="611.5" cy="208.5" r="3.1"/><circle cx="603.5" cy="187.5" r="3.1"/><circle cx="625.5" cy="211.5" r="3.1"/><circle cx="637.5" cy="196.5" r="3.1"/><circle cx="635.5" cy="191.5" r="3.1"/><circle cx="597.5" cy="209.5" r="3.1"/><circle cx="634.5" cy="191.5" r="3.1"/><circle cx="616.5" cy="199.5" r="3.1"/><circle cx="646.5" cy="209.5" r="3.1"/><circle cx="629.5" cy="203.5" r="3.1"/><circle cx="611.5" cy="183.5" r="3.1"/><circle cx="635.5" cy="188.5" r="3.1"/><circle cx="647.5" cy="200.5" r="3.1"/><circle cx="632.5" cy="205.5" r="3.1"/><circle cx="624.5" cy="202.5" r="3.1"/><circle cx="619.5" cy="191.5" r="3.1"/><circle cx="597.5" cy="168.5" r="3.1"/><circle cx="593.5" cy="219.5" r="3.1"/><circle cx="643.5" cy="188.5" r="3.1"/><circle cx="631.5" cy="191.5" r="3.1"/><circle cx="616.5" cy="214.5" r="3.1"/><circle cx="618.5" cy="211.5" r="3.1"/><circle cx="639.5" cy="203.5" r="3.1"/><circle cx="597.5" cy="205.5" r="3.1"/><circle cx="626.5" cy="209.5" r="3.1"/><circle cx="597.5" cy="197.5" r="3.1"/><circle cx="622.5" cy="208.5" r="3.1"/><circle cx="605.5" cy="197.5" r="3.1"/><circle cx="583.5" cy="222.5" r="3.1"/><circle cx="600.5" cy="204.5" r="3.1"/><circle cx="624.5" cy="178.5" r="3.1"/><circle cx="636.5" cy="203.5" r="3.1"/><circle cx="616.5" cy="216.5" r="3.1"/><circle cx="616.5" cy="205.5" r="3.1"/><circle cx="624.5" cy="213.5" r="3.1"/><circle cx="628.5" cy="177.5" r="3.1"/><circle cx="614.5" cy="194.5" r="3.1"/><circle cx="632.5" cy="207.5" r="3.1"/><circle cx="622.5" cy="200.5" r="3.1"/><circle cx="619.5" cy="212.5" r="3.1"/><circle cx="617.5" cy="193.5" r="3.1"/><circle cx="650.5" cy="186.5" r="3.1"/><circle cx="666.5" cy="212.5" r="3.1"/><circle cx="637.5" cy="198.5" r="3.1"/><circle cx="667.5" cy="213.5" r="3.1"/><circle cx="597.5" cy="210.5" r="3.1"/><circle cx="567.5" cy="208.5" r="3.1"/><circle cx="599.5" cy="198.5" r="3.1"/><circle cx="624.5" cy="171.5" r="3.1"/><circle cx="638.5" cy="209.5" r="3.1"/><circle cx="595.5" cy="193.5" r="3.1"/><circle cx="586.5" cy="172.5" r="3.1"/><circle cx="644.5" cy="208.5" r="3.1"/><circle cx="576.5" cy="180.5" r="3.1"/><circle cx="614.5" cy="181.5" r="3.1"/><circle cx="579.5" cy="210.5" r="3.1"/><circle cx="616.5" cy="200.5" r="3.1"/><circle cx="606.5" cy="191.5" r="3.1"/><circle cx="591.5" cy="203.5" r="3.1"/><circle cx="619.5" cy="192.5" r="3.1"/><circle cx="633.5" cy="218.5" r="3.1"/><circle cx="581.5" cy="181.5" r="3.1"/><circle cx="624.5" cy="212.5" r="3.1"/><circle cx="652.5" cy="199.5" r="3.1"/><circle cx="644.5" cy="199.5" r="3.1"/><circle cx="664.5" cy="173.5" r="3.1"/><circle cx="611.5" cy="185.5" r="3.1"/><circle cx="631.5" cy="179.5" r="3.1"/><circle cx="594.5" cy="190.5" r="3.1"/><circle cx="641.5" cy="227.5" r="3.1"/><circle cx="589.5" cy="232.5" r="3.1"/><circle cx="610.5" cy="189.5" r="3.1"/><circle cx="651.5" cy="199.5" r="3.1"/><circle cx="654.5" cy="222.5" r="3.1"/><circle cx="577.5" cy="201.5" r="3.1"/><circle cx="625.5" cy="201.5" r="3.1"/><circle cx="568.5" cy="202.5" r="3.1"/><circle cx="586.5" cy="190.5" r="3.1"/><circle cx="625.5" cy="215.5" r="3.1"/><circle cx="604.5" cy="217.5" r="3.1"/><circle cx="615.5" cy="186.5" r="3.1"/><circle cx="593.5" cy="193.5" r="3.1"/><circle cx="604.5" cy="213.5" r="3.1"/><circle cx="614.5" cy="216.5" r="3.1"/><circle cx="603.5" cy="219.5" r="3.1"/><circle cx="662.5" cy="200.5" r="3.1"/><circle cx="600.5" cy="197.5" r="3.1"/><circle cx="614.5" cy="204.5" r="3.1"/><circle cx="631.5" cy="189.5" r="3.1"/><circle cx="604.5" cy="209.5" r="3.1"/><circle cx="610.5" cy="236.5" r="3.1"/><circle cx="581.5" cy="179.5" r="3.1"/><circle cx="655.5" cy="204.5" r="3.1"/><circle cx="630.5" cy="196.5" r="3.1"/><circle cx="688.5" cy="183.5" r="3.1"/><circle cx="613.5" cy="215.5" r="3.1"/><circle cx="579.5" cy="197.5" r="3.1"/><circle cx="599.5" cy="222.5" r="3.1"/><circle cx="601.5" cy="217.5" r="3.1"/><circle cx="656.5" cy="187.5" r="3.1"/><circle cx="616.5" cy="178.5" r="3.1"/><circle cx="618.5" cy="214.5" r="3.1"/><circle cx="652.5" cy="192.5" r="3.1"/><circle cx="592.5" cy="203.5" r="3.1"/><circle cx="596.5" cy="222.5" r="3.1"/><circle cx="638.5" cy="171.5" r="3.1"/><circle cx="584.5" cy="192.5" r="3.1"/><circle cx="601.5" cy="208.5" r="3.1"/><circle cx="603.5" cy="214.5" r="3.1"/><circle cx="617.5" cy="213.5" r="3.1"/><circle cx="623.5" cy="201.5" r="3.1"/><circle cx="611.5" cy="214.5" r="3.1"/><circle cx="603.5" cy="189.5" r="3.1"/><circle cx="628.5" cy="215.5" r="3.1"/><circle cx="619.5" cy="189.5" r="3.1"/><circle cx="577.5" cy="192.5" r="3.1"/><circle cx="601.5" cy="192.5" r="3.1"/><circle cx="599.5" cy="228.5" r="3.1"/><circle cx="578.5" cy="200.5" r="3.1"/><circle cx="622.5" cy="214.5" r="3.1"/><circle cx="631.5" cy="226.5" r="3.1"/><circle cx="615.5" cy="219.5" r="3.1"/><circle cx="601.5" cy="200.5" r="3.1"/><circle cx="596.5" cy="206.5" r="3.1"/><circle cx="640.5" cy="209.5" r="3.1"/><circle cx="636.5" cy="218.5" r="3.1"/><circle cx="629.5" cy="178.5" r="3.1"/><circle cx="559.5" cy="213.5" r="3.1"/><circle cx="630.5" cy="204.5" r="3.1"/><circle cx="625.5" cy="210.5" r="3.1"/><circle cx="618.5" cy="203.5" r="3.1"/><circle cx="643.5" cy="196.5" r="3.1"/><circle cx="624.5" cy="207.5" r="3.1"/><circle cx="605.5" cy="207.5" r="3.1"/><circle cx="625.5" cy="207.5" r="3.1"/><circle cx="623.5" cy="168.5" r="3.1"/><circle cx="637.5" cy="205.5" r="3.1"/><circle cx="644.5" cy="207.5" r="3.1"/><circle cx="569.5" cy="216.5" r="3.1"/><circle cx="573.5" cy="206.5" r="3.1"/><circle cx="617.5" cy="175.5" r="3.1"/><circle cx="624.5" cy="204.5" r="3.1"/><circle cx="636.5" cy="234.5" r="3.1"/><circle cx="622.5" cy="189.5" r="3.1"/><circle cx="582.5" cy="183.5" r="3.1"/><circle cx="624.5" cy="207.5" r="3.1"/><circle cx="631.5" cy="165.5" r="3.1"/><circle cx="621.5" cy="197.5" r="3.1"/><circle cx="606.5" cy="213.5" r="3.1"/><circle cx="636.5" cy="214.5" r="3.1"/><circle cx="618.5" cy="208.5" r="3.1"/><circle cx="627.5" cy="195.5" r="3.1"/><circle cx="640.5" cy="208.5" r="3.1"/><circle cx="610.5" cy="215.5" r="3.1"/><circle cx="606.5" cy="195.5" r="3.1"/><circle cx="634.5" cy="215.5" r="3.1"/><circle cx="637.5" cy="180.5" r="3.1"/><circle cx="626.5" cy="171.5" r="3.1"/><circle cx="598.5" cy="220.5" r="3.1"/><circle cx="575.5" cy="177.5" r="3.1"/><circle cx="632.5" cy="201.5" r="3.1"/><circle cx="623.5" cy="218.5" r="3.1"/><circle cx="673.5" cy="198.5" r="3.1"/><circle cx="619.5" cy="189.5" r="3.1"/><circle cx="627.5" cy="197.5" r="3.1"/><circle cx="598.5" cy="193.5" r="3.1"/><circle cx="660.5" cy="180.5" r="3.1"/><circle cx="653.5" cy="208.5" r="3.1"/><circle cx="593.5" cy="202.5" r="3.1"/><circle cx="618.5" cy="184.5" r="3.1"/><circle cx="577.5" cy="177.5" r="3.1"/><circle cx="613.5" cy="207.5" r="3.1"/><circle cx="593.5" cy="226.5" r="3.1"/><circle cx="635.5" cy="199.5" r="3.1"/><circle cx="586.5" cy="220.5" r="3.1"/><circle cx="608.5" cy="175.5" r="3.1"/><circle cx="610.5" cy="224.5" r="3.1"/><circle cx="611.5" cy="205.5" r="3.1"/><circle cx="554.5" cy="201.5" r="3.1"/><circle cx="611.5" cy="190.5" r="3.1"/><circle cx="659.5" cy="183.5" r="3.1"/><circle cx="610.5" cy="217.5" r="3.1"/><circle cx="676.5" cy="199.5" r="3.1"/><circle cx="617.5" cy="201.5" r="3.1"/><circle cx="621.5" cy="203.5" r="3.1"/><circle cx="603.5" cy="209.5" r="3.1"/><circle cx="616.5" cy="209.5" r="3.1"/><circle cx="600.5" cy="199.5" r="3.1"/><circle cx="610.5" cy="177.5" r="3.1"/><circle cx="555.5" cy="184.5" r="3.1"/><circle cx="645.5" cy="232.5" r="3.1"/><circle cx="608.5" cy="206.5" r="3.1"/><circle cx="584.5" cy="212.5" r="3.1"/><circle cx="590.5" cy="173.5" r="3.1"/><circle cx="638.5" cy="181.5" r="3.1"/><circle cx="633.5" cy="218.5" r="3.1"/><circle cx="604.5" cy="193.5" r="3.1"/><circle cx="588.5" cy="189.5" r="3.1"/><circle cx="611.5" cy="206.5" r="3.1"/><circle cx="633.5" cy="194.5" r="3.1"/><circle cx="608.5" cy="183.5" r="3.1"/><circle cx="591.5" cy="191.5" r="3.1"/><circle cx="630.5" cy="205.5" r="3.1"/><circle cx="624.5" cy="220.5" r="3.1"/><circle cx="638.5" cy="203.5" r="3.1"/><circle cx="604.5" cy="184.5" r="3.1"/><circle cx="600.5" cy="222.5" r="3.1"/><circle cx="580.5" cy="191.5" r="3.1"/><circle cx="587.5" cy="173.5" r="3.1"/><circle cx="568.5" cy="174.5" r="3.1"/><circle cx="621.5" cy="202.5" r="3.1"/><circle cx="604.5" cy="194.5" r="3.1"/><circle cx="615.5" cy="183.5" r="3.1"/><circle cx="619.5" cy="198.5" r="3.1"/><circle cx="608.5" cy="201.5" r="3.1"/><circle cx="623.5" cy="227.5" r="3.1"/><circle cx="585.5" cy="189.5" r="3.1"/><circle cx="620.5" cy="203.5" r="3.1"/><circle cx="617.5" cy="195.5" r="3.1"/><circle cx="604.5" cy="212.5" r="3.1"/><circle cx="621.5" cy="215.5" r="3.1"/><circle cx="626.5" cy="227.5" r="3.1"/><circle cx="640.5" cy="193.5" r="3.1"/><circle cx="622.5" cy="185.5" r="3.1"/><circle cx="655.5" cy="185.5" r="3.1"/><circle cx="573.5" cy="220.5" r="3.1"/><circle cx="602.5" cy="200.5" r="3.1"/><circle cx="628.5" cy="212.5" r="3.1"/><circle cx="621.5" cy="212.5" r="3.1"/><circle cx="602.5" cy="222.5" r="3.1"/><circle cx="595.5" cy="221.5" r="3.1"/><circle cx="594.5" cy="184.5" r="3.1"/><circle cx="594.5" cy="160.5" r="3.1"/><circle cx="628.5" cy="198.5" r="3.1"/><circle cx="596.5" cy="190.5" r="3.1"/><circle cx="603.5" cy="199.5" r="3.1"/><circle cx="676.5" cy="202.5" r="3.1"/><circle cx="643.5" cy="211.5" r="3.1"/><circle cx="615.5" cy="173.5" r="3.1"/><circle cx="602.5" cy="172.5" r="3.1"/><circle cx="633.5" cy="209.5" r="3.1"/><circle cx="631.5" cy="185.5" r="3.1"/><circle cx="631.5" cy="225.5" r="3.1"/><circle cx="599.5" cy="204.5" r="3.1"/><circle cx="615.5" cy="191.5" r="3.1"/><circle cx="620.5" cy="221.5" r="3.1"/><circle cx="625.5" cy="191.5" r="3.1"/><circle cx="629.5" cy="184.5" r="3.1"/><circle cx="636.5" cy="193.5" r="3.1"/><circle cx="615.5" cy="226.5" r="3.1"/><circle cx="626.5" cy="197.5" r="3.1"/><circle cx="623.5" cy="220.5" r="3.1"/><circle cx="591.5" cy="184.5" r="3.1"/><circle cx="615.5" cy="190.5" r="3.1"/><circle cx="617.5" cy="200.5" r="3.1"/><circle cx="638.5" cy="208.5" r="3.1"/><circle cx="619.5" cy="208.5" r="3.1"/><circle cx="606.5" cy="205.5" r="3.1"/><circle cx="621.5" cy="208.5" r="3.1"/><circle cx="645.5" cy="214.5" r="3.1"/><circle cx="612.5" cy="207.5" r="3.1"/><circle cx="650.5" cy="197.5" r="3.1"/><circle cx="640.5" cy="223.5" r="3.1"/><circle cx="623.5" cy="187.5" r="3.1"/><circle cx="618.5" cy="184.5" r="3.1"/><circle cx="604.5" cy="179.5" r="3.1"/><circle cx="670.5" cy="206.5" r="3.1"/><circle cx="606.5" cy="178.5" r="3.1"/><circle cx="653.5" cy="208.5" r="3.1"/><circle cx="607.5" cy="205.5" r="3.1"/><circle cx="585.5" cy="215.5" r="3.1"/><circle cx="593.5" cy="212.5" r="3.1"/><circle cx="615.5" cy="197.5" r="3.1"/><circle cx="652.5" cy="216.5" r="3.1"/><circle cx="639.5" cy="204.5" r="3.1"/><circle cx="615.5" cy="190.5" r="3.1"/><circle cx="590.5" cy="194.5" r="3.1"/><circle cx="620.5" cy="193.5" r="3.1"/><circle cx="623.5" cy="163.5" r="3.1"/><circle cx="601.5" cy="209.5" r="3.1"/><circle cx="602.5" cy="209.5" r="3.1"/><circle cx="601.5" cy="182.5" r="3.1"/><circle cx="649.5" cy="209.5" r="3.1"/><circle cx="597.5" cy="193.5" r="3.1"/><circle cx="603.5" cy="191.5" r="3.1"/><circle cx="621.5" cy="224.5" r="3.1"/><circle cx="652.5" cy="173.5" r="3.1"/><circle cx="602.5" cy="206.5" r="3.1"/><circle cx="623.5" cy="195.5" r="3.1"/><circle cx="632.5" cy="169.5" r="3.1"/><circle cx="612.5" cy="213.5" r="3.1"/><circle cx="584.5" cy="212.5" r="3.1"/><circle cx="616.5" cy="173.5" r="3.1"/><circle cx="604.5" cy="197.5" r="3.1"/><circle cx="616.5" cy="182.5" r="3.1"/><circle cx="675.5" cy="209.5" r="3.1"/><circle cx="605.5" cy="184.5" r="3.1"/><circle cx="632.5" cy="172.5" r="3.1"/><circle cx="630.5" cy="206.5" r="3.1"/><circle cx="630.5" cy="183.5" r="3.1"/><circle cx="635.5" cy="193.5" r="3.1"/><circle cx="641.5" cy="182.5" r="3.1"/><circle cx="648.5" cy="190.5" r="3.1"/><circle cx="612.5" cy="198.5" r="3.1"/><circle cx="644.5" cy="213.5" r="3.1"/><circle cx="625.5" cy="206.5" r="3.1"/><circle cx="617.5" cy="181.5" r="3.1"/><circle cx="621.5" cy="200.5" r="3.1"/><circle cx="585.5" cy="189.5" r="3.1"/><circle cx="631.5" cy="167.5" r="3.1"/><circle cx="609.5" cy="197.5" r="3.1"/><circle cx="622.5" cy="176.5" r="3.1"/><circle cx="614.5" cy="196.5" r="3.1"/><circle cx="630.5" cy="198.5" r="3.1"/><circle cx="606.5" cy="197.5" r="3.1"/><circle cx="641.5" cy="216.5" r="3.1"/><circle cx="619.5" cy="211.5" r="3.1"/><circle cx="644.5" cy="224.5" r="3.1"/><circle cx="603.5" cy="195.5" r="3.1"/><circle cx="653.5" cy="201.5" r="3.1"/><circle cx="603.5" cy="171.5" r="3.1"/><circle cx="583.5" cy="234.5" r="3.1"/><circle cx="627.5" cy="208.5" r="3.1"/><circle cx="593.5" cy="189.5" r="3.1"/><circle cx="622.5" cy="209.5" r="3.1"/><circle cx="587.5" cy="187.5" r="3.1"/><circle cx="631.5" cy="202.5" r="3.1"/><circle cx="659.5" cy="217.5" r="3.1"/><circle cx="581.5" cy="211.5" r="3.1"/><circle cx="615.5" cy="197.5" r="3.1"/><circle cx="611.5" cy="195.5" r="3.1"/><circle cx="587.5" cy="178.5" r="3.1"/><circle cx="614.5" cy="183.5" r="3.1"/><circle cx="624.5" cy="193.5" r="3.1"/><circle cx="630.5" cy="193.5" r="3.1"/><circle cx="631.5" cy="180.5" r="3.1"/><circle cx="621.5" cy="189.5" r="3.1"/><circle cx="614.5" cy="178.5" r="3.1"/><circle cx="601.5" cy="173.5" r="3.1"/><circle cx="615.5" cy="222.5" r="3.1"/><circle cx="619.5" cy="211.5" r="3.1"/><circle cx="636.5" cy="210.5" r="3.1"/><circle cx="606.5" cy="229.5" r="3.1"/><circle cx="606.5" cy="238.5" r="3.1"/><circle cx="579.5" cy="189.5" r="3.1"/><circle cx="635.5" cy="194.5" r="3.1"/><circle cx="594.5" cy="201.5" r="3.1"/><circle cx="616.5" cy="218.5" r="3.1"/><circle cx="651.5" cy="187.5" r="3.1"/><circle cx="611.5" cy="200.5" r="3.1"/><circle cx="621.5" cy="232.5" r="3.1"/><circle cx="611.5" cy="211.5" r="3.1"/><circle cx="593.5" cy="205.5" r="3.1"/><circle cx="658.5" cy="191.5" r="3.1"/><circle cx="603.5" cy="192.5" r="3.1"/><circle cx="318.5" cy="408.5" r="3.1"/><circle cx="321.5" cy="382.5" r="3.1"/><circle cx="301.5" cy="409.5" r="3.1"/><circle cx="343.5" cy="394.5" r="3.1"/><circle cx="295.5" cy="397.5" r="3.1"/><circle cx="296.5" cy="413.5" r="3.1"/><circle cx="312.5" cy="435.5" r="3.1"/><circle cx="266.5" cy="414.5" r="3.1"/><circle cx="283.5" cy="401.5" r="3.1"/><circle cx="285.5" cy="427.5" r="3.1"/><circle cx="340.5" cy="409.5" r="3.1"/><circle cx="308.5" cy="428.5" r="3.1"/><circle cx="294.5" cy="404.5" r="3.1"/><circle cx="280.5" cy="400.5" r="3.1"/><circle cx="292.5" cy="410.5" r="3.1"/><circle cx="292.5" cy="377.5" r="3.1"/><circle cx="306.5" cy="422.5" r="3.1"/><circle cx="325.5" cy="425.5" r="3.1"/><circle cx="311.5" cy="436.5" r="3.1"/><circle cx="275.5" cy="403.5" r="3.1"/><circle cx="323.5" cy="403.5" r="3.1"/><circle cx="304.5" cy="410.5" r="3.1"/><circle cx="272.5" cy="417.5" r="3.1"/><circle cx="296.5" cy="389.5" r="3.1"/><circle cx="314.5" cy="433.5" r="3.1"/><circle cx="314.5" cy="412.5" r="3.1"/><circle cx="291.5" cy="396.5" r="3.1"/><circle cx="330.5" cy="391.5" r="3.1"/><circle cx="287.5" cy="410.5" r="3.1"/><circle cx="314.5" cy="391.5" r="3.1"/><circle cx="295.5" cy="409.5" r="3.1"/><circle cx="281.5" cy="424.5" r="3.1"/><circle cx="325.5" cy="385.5" r="3.1"/><circle cx="305.5" cy="390.5" r="3.1"/><circle cx="315.5" cy="416.5" r="3.1"/><circle cx="315.5" cy="382.5" r="3.1"/><circle cx="305.5" cy="382.5" r="3.1"/><circle cx="245.5" cy="393.5" r="3.1"/><circle cx="308.5" cy="410.5" r="3.1"/><circle cx="308.5" cy="436.5" r="3.1"/><circle cx="301.5" cy="400.5" r="3.1"/><circle cx="341.5" cy="414.5" r="3.1"/><circle cx="288.5" cy="413.5" r="3.1"/><circle cx="328.5" cy="401.5" r="3.1"/><circle cx="294.5" cy="398.5" r="3.1"/><circle cx="309.5" cy="391.5" r="3.1"/><circle cx="290.5" cy="411.5" r="3.1"/><circle cx="297.5" cy="428.5" r="3.1"/><circle cx="313.5" cy="402.5" r="3.1"/><circle cx="306.5" cy="409.5" r="3.1"/><circle cx="273.5" cy="412.5" r="3.1"/><circle cx="298.5" cy="418.5" r="3.1"/><circle cx="303.5" cy="399.5" r="3.1"/><circle cx="350.5" cy="403.5" r="3.1"/><circle cx="312.5" cy="407.5" r="3.1"/><circle cx="262.5" cy="406.5" r="3.1"/><circle cx="308.5" cy="368.5" r="3.1"/><circle cx="302.5" cy="401.5" r="3.1"/><circle cx="305.5" cy="424.5" r="3.1"/><circle cx="333.5" cy="394.5" r="3.1"/><circle cx="325.5" cy="420.5" r="3.1"/><circle cx="339.5" cy="427.5" r="3.1"/><circle cx="320.5" cy="372.5" r="3.1"/><circle cx="283.5" cy="414.5" r="3.1"/><circle cx="309.5" cy="413.5" r="3.1"/><circle cx="270.5" cy="405.5" r="3.1"/><circle cx="282.5" cy="398.5" r="3.1"/><circle cx="285.5" cy="382.5" r="3.1"/><circle cx="288.5" cy="411.5" r="3.1"/><circle cx="325.5" cy="425.5" r="3.1"/><circle cx="312.5" cy="386.5" r="3.1"/><circle cx="269.5" cy="403.5" r="3.1"/><circle cx="312.5" cy="394.5" r="3.1"/><circle cx="278.5" cy="426.5" r="3.1"/><circle cx="318.5" cy="401.5" r="3.1"/><circle cx="312.5" cy="400.5" r="3.1"/><circle cx="290.5" cy="402.5" r="3.1"/><circle cx="313.5" cy="417.5" r="3.1"/><circle cx="350.5" cy="398.5" r="3.1"/><circle cx="279.5" cy="396.5" r="3.1"/><circle cx="284.5" cy="394.5" r="3.1"/><circle cx="333.5" cy="418.5" r="3.1"/><circle cx="329.5" cy="399.5" r="3.1"/><circle cx="325.5" cy="377.5" r="3.1"/><circle cx="301.5" cy="417.5" r="3.1"/><circle cx="286.5" cy="418.5" r="3.1"/><circle cx="305.5" cy="400.5" r="3.1"/><circle cx="313.5" cy="393.5" r="3.1"/><circle cx="307.5" cy="383.5" r="3.1"/><circle cx="300.5" cy="364.5" r="3.1"/><circle cx="321.5" cy="419.5" r="3.1"/><circle cx="281.5" cy="398.5" r="3.1"/><circle cx="301.5" cy="395.5" r="3.1"/><circle cx="317.5" cy="407.5" r="3.1"/><circle cx="287.5" cy="429.5" r="3.1"/><circle cx="296.5" cy="393.5" r="3.1"/><circle cx="311.5" cy="425.5" r="3.1"/><circle cx="310.5" cy="400.5" r="3.1"/><circle cx="286.5" cy="403.5" r="3.1"/><circle cx="308.5" cy="423.5" r="3.1"/><circle cx="315.5" cy="397.5" r="3.1"/><circle cx="331.5" cy="389.5" r="3.1"/><circle cx="274.5" cy="420.5" r="3.1"/><circle cx="318.5" cy="398.5" r="3.1"/><circle cx="318.5" cy="346.5" r="3.1"/><circle cx="320.5" cy="388.5" r="3.1"/><circle cx="328.5" cy="396.5" r="3.1"/><circle cx="299.5" cy="394.5" r="3.1"/><circle cx="288.5" cy="409.5" r="3.1"/><circle cx="295.5" cy="404.5" r="3.1"/><circle cx="360.5" cy="434.5" r="3.1"/><circle cx="322.5" cy="431.5" r="3.1"/><circle cx="295.5" cy="389.5" r="3.1"/><circle cx="308.5" cy="422.5" r="3.1"/><circle cx="290.5" cy="395.5" r="3.1"/><circle cx="289.5" cy="402.5" r="3.1"/><circle cx="307.5" cy="416.5" r="3.1"/><circle cx="356.5" cy="396.5" r="3.1"/><circle cx="259.5" cy="403.5" r="3.1"/><circle cx="291.5" cy="393.5" r="3.1"/><circle cx="288.5" cy="407.5" r="3.1"/><circle cx="318.5" cy="392.5" r="3.1"/><circle cx="278.5" cy="411.5" r="3.1"/><circle cx="295.5" cy="416.5" r="3.1"/><circle cx="347.5" cy="399.5" r="3.1"/><circle cx="277.5" cy="392.5" r="3.1"/><circle cx="356.5" cy="390.5" r="3.1"/><circle cx="271.5" cy="413.5" r="3.1"/><circle cx="336.5" cy="417.5" r="3.1"/><circle cx="317.5" cy="394.5" r="3.1"/><circle cx="285.5" cy="407.5" r="3.1"/><circle cx="231.5" cy="421.5" r="3.1"/><circle cx="300.5" cy="425.5" r="3.1"/><circle cx="344.5" cy="428.5" r="3.1"/><circle cx="296.5" cy="404.5" r="3.1"/><circle cx="340.5" cy="428.5" r="3.1"/><circle cx="333.5" cy="406.5" r="3.1"/><circle cx="283.5" cy="399.5" r="3.1"/><circle cx="311.5" cy="415.5" r="3.1"/><circle cx="308.5" cy="412.5" r="3.1"/><circle cx="309.5" cy="396.5" r="3.1"/><circle cx="343.5" cy="425.5" r="3.1"/><circle cx="356.5" cy="436.5" r="3.1"/><circle cx="303.5" cy="397.5" r="3.1"/><circle cx="313.5" cy="415.5" r="3.1"/><circle cx="301.5" cy="413.5" r="3.1"/><circle cx="293.5" cy="393.5" r="3.1"/><circle cx="315.5" cy="416.5" r="3.1"/><circle cx="327.5" cy="401.5" r="3.1"/><circle cx="325.5" cy="396.5" r="3.1"/><circle cx="287.5" cy="414.5" r="3.1"/><circle cx="324.5" cy="396.5" r="3.1"/><circle cx="306.5" cy="404.5" r="3.1"/><circle cx="336.5" cy="415.5" r="3.1"/><circle cx="319.5" cy="409.5" r="3.1"/><circle cx="301.5" cy="389.5" r="3.1"/><circle cx="325.5" cy="393.5" r="3.1"/><circle cx="337.5" cy="405.5" r="3.1"/><circle cx="322.5" cy="410.5" r="3.1"/><circle cx="314.5" cy="408.5" r="3.1"/><circle cx="309.5" cy="397.5" r="3.1"/><circle cx="287.5" cy="373.5" r="3.1"/><circle cx="283.5" cy="424.5" r="3.1"/><circle cx="333.5" cy="394.5" r="3.1"/><circle cx="321.5" cy="396.5" r="3.1"/><circle cx="306.5" cy="420.5" r="3.1"/><circle cx="308.5" cy="416.5" r="3.1"/><circle cx="329.5" cy="408.5" r="3.1"/><circle cx="287.5" cy="411.5" r="3.1"/><circle cx="316.5" cy="414.5" r="3.1"/><circle cx="287.5" cy="402.5" r="3.1"/><circle cx="312.5" cy="414.5" r="3.1"/><circle cx="295.5" cy="402.5" r="3.1"/><circle cx="273.5" cy="427.5" r="3.1"/><circle cx="290.5" cy="409.5" r="3.1"/><circle cx="314.5" cy="383.5" r="3.1"/><circle cx="326.5" cy="408.5" r="3.1"/><circle cx="306.5" cy="421.5" r="3.1"/><circle cx="306.5" cy="410.5" r="3.1"/><circle cx="314.5" cy="418.5" r="3.1"/><circle cx="318.5" cy="382.5" r="3.1"/><circle cx="304.5" cy="400.5" r="3.1"/><circle cx="322.5" cy="412.5" r="3.1"/><circle cx="312.5" cy="406.5" r="3.1"/><circle cx="309.5" cy="418.5" r="3.1"/><circle cx="307.5" cy="398.5" r="3.1"/><circle cx="340.5" cy="391.5" r="3.1"/><circle cx="356.5" cy="418.5" r="3.1"/><circle cx="327.5" cy="403.5" r="3.1"/><circle cx="357.5" cy="418.5" r="3.1"/><circle cx="287.5" cy="415.5" r="3.1"/><circle cx="257.5" cy="414.5" r="3.1"/><circle cx="289.5" cy="403.5" r="3.1"/><circle cx="314.5" cy="377.5" r="3.1"/><circle cx="328.5" cy="415.5" r="3.1"/><circle cx="285.5" cy="398.5" r="3.1"/><circle cx="276.5" cy="378.5" r="3.1"/><circle cx="334.5" cy="413.5" r="3.1"/><circle cx="266.5" cy="385.5" r="3.1"/><circle cx="304.5" cy="387.5" r="3.1"/><circle cx="269.5" cy="415.5" r="3.1"/><circle cx="306.5" cy="405.5" r="3.1"/><circle cx="296.5" cy="396.5" r="3.1"/><circle cx="281.5" cy="408.5" r="3.1"/><circle cx="309.5" cy="398.5" r="3.1"/><circle cx="323.5" cy="423.5" r="3.1"/><circle cx="271.5" cy="386.5" r="3.1"/><circle cx="314.5" cy="417.5" r="3.1"/><circle cx="342.5" cy="404.5" r="3.1"/><circle cx="334.5" cy="405.5" r="3.1"/><circle cx="354.5" cy="379.5" r="3.1"/><circle cx="301.5" cy="391.5" r="3.1"/><circle cx="321.5" cy="385.5" r="3.1"/><circle cx="284.5" cy="395.5" r="3.1"/><circle cx="331.5" cy="433.5" r="3.1"/><circle cx="279.5" cy="437.5" r="3.1"/><circle cx="300.5" cy="395.5" r="3.1"/><circle cx="341.5" cy="405.5" r="3.1"/><circle cx="344.5" cy="427.5" r="3.1"/><circle cx="267.5" cy="407.5" r="3.1"/><circle cx="315.5" cy="406.5" r="3.1"/><circle cx="258.5" cy="407.5" r="3.1"/><circle cx="276.5" cy="395.5" r="3.1"/><circle cx="315.5" cy="420.5" r="3.1"/><circle cx="294.5" cy="422.5" r="3.1"/><circle cx="305.5" cy="391.5" r="3.1"/><circle cx="283.5" cy="398.5" r="3.1"/><circle cx="294.5" cy="418.5" r="3.1"/><circle cx="304.5" cy="422.5" r="3.1"/><circle cx="293.5" cy="424.5" r="3.1"/><circle cx="352.5" cy="405.5" r="3.1"/><circle cx="290.5" cy="402.5" r="3.1"/><circle cx="304.5" cy="409.5" r="3.1"/><circle cx="321.5" cy="394.5" r="3.1"/><circle cx="294.5" cy="415.5" r="3.1"/><circle cx="300.5" cy="441.5" r="3.1"/><circle cx="271.5" cy="385.5" r="3.1"/><circle cx="345.5" cy="410.5" r="3.1"/><circle cx="320.5" cy="401.5" r="3.1"/><circle cx="378.5" cy="388.5" r="3.1"/><circle cx="303.5" cy="420.5" r="3.1"/><circle cx="269.5" cy="403.5" r="3.1"/><circle cx="289.5" cy="428.5" r="3.1"/><circle cx="291.5" cy="422.5" r="3.1"/><circle cx="346.5" cy="392.5" r="3.1"/><circle cx="306.5" cy="383.5" r="3.1"/><circle cx="308.5" cy="419.5" r="3.1"/><circle cx="342.5" cy="397.5" r="3.1"/><circle cx="282.5" cy="409.5" r="3.1"/><circle cx="286.5" cy="427.5" r="3.1"/><circle cx="328.5" cy="376.5" r="3.1"/><circle cx="274.5" cy="397.5" r="3.1"/><circle cx="291.5" cy="413.5" r="3.1"/><circle cx="293.5" cy="419.5" r="3.1"/><circle cx="307.5" cy="419.5" r="3.1"/><circle cx="313.5" cy="406.5" r="3.1"/><circle cx="301.5" cy="420.5" r="3.1"/><circle cx="293.5" cy="394.5" r="3.1"/><circle cx="318.5" cy="421.5" r="3.1"/><circle cx="309.5" cy="394.5" r="3.1"/><circle cx="267.5" cy="397.5" r="3.1"/><circle cx="291.5" cy="397.5" r="3.1"/><circle cx="289.5" cy="434.5" r="3.1"/><circle cx="268.5" cy="405.5" r="3.1"/><circle cx="312.5" cy="420.5" r="3.1"/><circle cx="321.5" cy="431.5" r="3.1"/><circle cx="305.5" cy="424.5" r="3.1"/><circle cx="291.5" cy="405.5" r="3.1"/><circle cx="286.5" cy="412.5" r="3.1"/><circle cx="330.5" cy="415.5" r="3.1"/><circle cx="326.5" cy="423.5" r="3.1"/><circle cx="319.5" cy="384.5" r="3.1"/><circle cx="249.5" cy="418.5" r="3.1"/><circle cx="320.5" cy="409.5" r="3.1"/><circle cx="315.5" cy="415.5" r="3.1"/><circle cx="308.5" cy="408.5" r="3.1"/><circle cx="333.5" cy="402.5" r="3.1"/><circle cx="314.5" cy="412.5" r="3.1"/><circle cx="295.5" cy="412.5" r="3.1"/><circle cx="315.5" cy="412.5" r="3.1"/><circle cx="313.5" cy="374.5" r="3.1"/><circle cx="327.5" cy="411.5" r="3.1"/><circle cx="334.5" cy="412.5" r="3.1"/><circle cx="259.5" cy="421.5" r="3.1"/><circle cx="263.5" cy="411.5" r="3.1"/><circle cx="307.5" cy="380.5" r="3.1"/><circle cx="314.5" cy="409.5" r="3.1"/><circle cx="326.5" cy="440.5" r="3.1"/><circle cx="312.5" cy="394.5" r="3.1"/><circle cx="272.5" cy="388.5" r="3.1"/><circle cx="314.5" cy="412.5" r="3.1"/><circle cx="321.5" cy="371.5" r="3.1"/><circle cx="311.5" cy="402.5" r="3.1"/><circle cx="296.5" cy="419.5" r="3.1"/><circle cx="326.5" cy="419.5" r="3.1"/><circle cx="308.5" cy="413.5" r="3.1"/><circle cx="317.5" cy="401.5" r="3.1"/><circle cx="330.5" cy="414.5" r="3.1"/><circle cx="300.5" cy="421.5" r="3.1"/><circle cx="296.5" cy="400.5" r="3.1"/><circle cx="324.5" cy="420.5" r="3.1"/><circle cx="327.5" cy="385.5" r="3.1"/><circle cx="316.5" cy="377.5" r="3.1"/><circle cx="288.5" cy="425.5" r="3.1"/><circle cx="265.5" cy="383.5" r="3.1"/><circle cx="322.5" cy="407.5" r="3.1"/><circle cx="313.5" cy="423.5" r="3.1"/><circle cx="363.5" cy="404.5" r="3.1"/><circle cx="309.5" cy="395.5" r="3.1"/><circle cx="317.5" cy="402.5" r="3.1"/><circle cx="288.5" cy="398.5" r="3.1"/><circle cx="350.5" cy="385.5" r="3.1"/><circle cx="343.5" cy="414.5" r="3.1"/><circle cx="283.5" cy="408.5" r="3.1"/><circle cx="308.5" cy="389.5" r="3.1"/><circle cx="267.5" cy="382.5" r="3.1"/><circle cx="303.5" cy="412.5" r="3.1"/><circle cx="283.5" cy="431.5" r="3.1"/><circle cx="325.5" cy="405.5" r="3.1"/><circle cx="276.5" cy="426.5" r="3.1"/><circle cx="298.5" cy="380.5" r="3.1"/><circle cx="300.5" cy="429.5" r="3.1"/><circle cx="301.5" cy="410.5" r="3.1"/><circle cx="244.5" cy="407.5" r="3.1"/><circle cx="301.5" cy="395.5" r="3.1"/><circle cx="349.5" cy="388.5" r="3.1"/><circle cx="300.5" cy="423.5" r="3.1"/><circle cx="366.5" cy="405.5" r="3.1"/><circle cx="307.5" cy="406.5" r="3.1"/><circle cx="311.5" cy="408.5" r="3.1"/><circle cx="293.5" cy="414.5" r="3.1"/><circle cx="306.5" cy="414.5" r="3.1"/><circle cx="290.5" cy="404.5" r="3.1"/><circle cx="300.5" cy="383.5" r="3.1"/><circle cx="245.5" cy="389.5" r="3.1"/><circle cx="335.5" cy="438.5" r="3.1"/><circle cx="298.5" cy="411.5" r="3.1"/><circle cx="274.5" cy="418.5" r="3.1"/><circle cx="280.5" cy="379.5" r="3.1"/><circle cx="328.5" cy="386.5" r="3.1"/><circle cx="323.5" cy="423.5" r="3.1"/><circle cx="294.5" cy="398.5" r="3.1"/><circle cx="278.5" cy="395.5" r="3.1"/><circle cx="301.5" cy="411.5" r="3.1"/><circle cx="323.5" cy="399.5" r="3.1"/><circle cx="298.5" cy="388.5" r="3.1"/><circle cx="281.5" cy="396.5" r="3.1"/><circle cx="320.5" cy="410.5" r="3.1"/><circle cx="314.5" cy="425.5" r="3.1"/><circle cx="328.5" cy="409.5" r="3.1"/><circle cx="294.5" cy="390.5" r="3.1"/><circle cx="290.5" cy="427.5" r="3.1"/><circle cx="270.5" cy="396.5" r="3.1"/><circle cx="277.5" cy="379.5" r="3.1"/><circle cx="258.5" cy="380.5" r="3.1"/><circle cx="311.5" cy="407.5" r="3.1"/><circle cx="294.5" cy="400.5" r="3.1"/><circle cx="305.5" cy="389.5" r="3.1"/><circle cx="309.5" cy="403.5" r="3.1"/><circle cx="298.5" cy="407.5" r="3.1"/><circle cx="313.5" cy="432.5" r="3.1"/><circle cx="275.5" cy="394.5" r="3.1"/><circle cx="310.5" cy="409.5" r="3.1"/><circle cx="307.5" cy="400.5" r="3.1"/><circle cx="294.5" cy="418.5" r="3.1"/><circle cx="311.5" cy="421.5" r="3.1"/><circle cx="316.5" cy="432.5" r="3.1"/><circle cx="330.5" cy="398.5" r="3.1"/><circle cx="312.5" cy="391.5" r="3.1"/><circle cx="345.5" cy="390.5" r="3.1"/><circle cx="263.5" cy="425.5" r="3.1"/><circle cx="292.5" cy="405.5" r="3.1"/><circle cx="318.5" cy="417.5" r="3.1"/><circle cx="311.5" cy="417.5" r="3.1"/><circle cx="292.5" cy="427.5" r="3.1"/><circle cx="285.5" cy="427.5" r="3.1"/><circle cx="284.5" cy="389.5" r="3.1"/><circle cx="284.5" cy="365.5" r="3.1"/><circle cx="318.5" cy="403.5" r="3.1"/><circle cx="286.5" cy="395.5" r="3.1"/><circle cx="293.5" cy="404.5" r="3.1"/><circle cx="366.5" cy="407.5" r="3.1"/><circle cx="333.5" cy="417.5" r="3.1"/><circle cx="305.5" cy="378.5" r="3.1"/><circle cx="292.5" cy="378.5" r="3.1"/><circle cx="323.5" cy="414.5" r="3.1"/><circle cx="321.5" cy="391.5" r="3.1"/><circle cx="321.5" cy="430.5" r="3.1"/><circle cx="289.5" cy="410.5" r="3.1"/><circle cx="305.5" cy="396.5" r="3.1"/><circle cx="310.5" cy="426.5" r="3.1"/><circle cx="315.5" cy="396.5" r="3.1"/><circle cx="319.5" cy="389.5" r="3.1"/><circle cx="326.5" cy="399.5" r="3.1"/><circle cx="305.5" cy="431.5" r="3.1"/><circle cx="316.5" cy="403.5" r="3.1"/><circle cx="313.5" cy="425.5" r="3.1"/><circle cx="281.5" cy="389.5" r="3.1"/><circle cx="305.5" cy="395.5" r="3.1"/><circle cx="307.5" cy="405.5" r="3.1"/><circle cx="328.5" cy="414.5" r="3.1"/><circle cx="309.5" cy="413.5" r="3.1"/><circle cx="296.5" cy="410.5" r="3.1"/><circle cx="311.5" cy="413.5" r="3.1"/><circle cx="335.5" cy="419.5" r="3.1"/><circle cx="302.5" cy="412.5" r="3.1"/><circle cx="340.5" cy="403.5" r="3.1"/><circle cx="330.5" cy="429.5" r="3.1"/><circle cx="313.5" cy="392.5" r="3.1"/><circle cx="308.5" cy="389.5" r="3.1"/><circle cx="294.5" cy="384.5" r="3.1"/><circle cx="360.5" cy="411.5" r="3.1"/><circle cx="296.5" cy="383.5" r="3.1"/><circle cx="343.5" cy="414.5" r="3.1"/><circle cx="297.5" cy="410.5" r="3.1"/><circle cx="275.5" cy="420.5" r="3.1"/><circle cx="283.5" cy="418.5" r="3.1"/><circle cx="305.5" cy="402.5" r="3.1"/><circle cx="342.5" cy="421.5" r="3.1"/><circle cx="329.5" cy="409.5" r="3.1"/><circle cx="305.5" cy="395.5" r="3.1"/><circle cx="280.5" cy="400.5" r="3.1"/><circle cx="310.5" cy="398.5" r="3.1"/><circle cx="313.5" cy="368.5" r="3.1"/><circle cx="291.5" cy="414.5" r="3.1"/><circle cx="292.5" cy="414.5" r="3.1"/><circle cx="291.5" cy="387.5" r="3.1"/><circle cx="339.5" cy="415.5" r="3.1"/><circle cx="287.5" cy="398.5" r="3.1"/><circle cx="293.5" cy="396.5" r="3.1"/><circle cx="311.5" cy="429.5" r="3.1"/><circle cx="342.5" cy="378.5" r="3.1"/><circle cx="292.5" cy="412.5" r="3.1"/><circle cx="313.5" cy="401.5" r="3.1"/><circle cx="322.5" cy="375.5" r="3.1"/><circle cx="302.5" cy="418.5" r="3.1"/><circle cx="274.5" cy="417.5" r="3.1"/><circle cx="306.5" cy="378.5" r="3.1"/><circle cx="294.5" cy="402.5" r="3.1"/><circle cx="306.5" cy="387.5" r="3.1"/><circle cx="365.5" cy="414.5" r="3.1"/><circle cx="295.5" cy="390.5" r="3.1"/><circle cx="322.5" cy="377.5" r="3.1"/><circle cx="320.5" cy="411.5" r="3.1"/><circle cx="320.5" cy="389.5" r="3.1"/><circle cx="325.5" cy="398.5" r="3.1"/><circle cx="331.5" cy="388.5" r="3.1"/><circle cx="338.5" cy="396.5" r="3.1"/><circle cx="302.5" cy="403.5" r="3.1"/><circle cx="334.5" cy="418.5" r="3.1"/><circle cx="315.5" cy="412.5" r="3.1"/><circle cx="307.5" cy="386.5" r="3.1"/><circle cx="311.5" cy="405.5" r="3.1"/><circle cx="275.5" cy="394.5" r="3.1"/><circle cx="321.5" cy="372.5" r="3.1"/><circle cx="299.5" cy="402.5" r="3.1"/><circle cx="312.5" cy="381.5" r="3.1"/><circle cx="304.5" cy="401.5" r="3.1"/><circle cx="320.5" cy="403.5" r="3.1"/><circle cx="296.5" cy="403.5" r="3.1"/><circle cx="331.5" cy="422.5" r="3.1"/><circle cx="309.5" cy="416.5" r="3.1"/><circle cx="334.5" cy="429.5" r="3.1"/><circle cx="293.5" cy="400.5" r="3.1"/><circle cx="343.5" cy="407.5" r="3.1"/><circle cx="293.5" cy="377.5" r="3.1"/><circle cx="273.5" cy="440.5" r="3.1"/><circle cx="317.5" cy="413.5" r="3.1"/><circle cx="283.5" cy="395.5" r="3.1"/><circle cx="312.5" cy="414.5" r="3.1"/><circle cx="277.5" cy="392.5" r="3.1"/><circle cx="321.5" cy="407.5" r="3.1"/><circle cx="349.5" cy="422.5" r="3.1"/><circle cx="271.5" cy="416.5" r="3.1"/><circle cx="305.5" cy="402.5" r="3.1"/><circle cx="301.5" cy="400.5" r="3.1"/><circle cx="277.5" cy="383.5" r="3.1"/><circle cx="304.5" cy="389.5" r="3.1"/><circle cx="314.5" cy="399.5" r="3.1"/><circle cx="320.5" cy="399.5" r="3.1"/><circle cx="321.5" cy="385.5" r="3.1"/><circle cx="311.5" cy="395.5" r="3.1"/><circle cx="304.5" cy="384.5" r="3.1"/><circle cx="291.5" cy="378.5" r="3.1"/><circle cx="305.5" cy="428.5" r="3.1"/><circle cx="309.5" cy="416.5" r="3.1"/><circle cx="326.5" cy="416.5" r="3.1"/><circle cx="296.5" cy="435.5" r="3.1"/><circle cx="296.5" cy="443.5" r="3.1"/><circle cx="269.5" cy="394.5" r="3.1"/><circle cx="325.5" cy="399.5" r="3.1"/><circle cx="284.5" cy="406.5" r="3.1"/><circle cx="306.5" cy="424.5" r="3.1"/><circle cx="341.5" cy="392.5" r="3.1"/><circle cx="301.5" cy="405.5" r="3.1"/><circle cx="311.5" cy="437.5" r="3.1"/><circle cx="301.5" cy="416.5" r="3.1"/><circle cx="283.5" cy="410.5" r="3.1"/><circle cx="348.5" cy="396.5" r="3.1"/><circle cx="293.5" cy="397.5" r="3.1"/></g>
<g fill="#8a2be2"><circle cx="649.5" cy="186.5" r="3.1"/><circle cx="618.5" cy="210.5" r="3.1"/><circle cx="633.5" cy="194.5" r="3.1"/><circle cx="637.5" cy="191.5" r="3.1"/><circle cx="641.5" cy="209.5" r="3.1"/><circle cx="647.5" cy="197.5" r="3.1"/><circle cx="665.5" cy="211.5" r="3.1"/><circle cx="657.5" cy="197.5" r="3.1"/><circle cx="601.5" cy="208.5" r="3.1"/><circle cx="609.5" cy="194.5" r="3.1"/><circle cx="628.5" cy="209.5" r="3.1"/><circle cx="616.5" cy="167.5" r="3.1"/><circle cx="656.5" cy="194.5" r="3.1"/><circle cx="617.5" cy="199.5" r="3.1"/><circle cx="631.5" cy="216.5" r="3.1"/><circle cx="610.5" cy="226.5" r="3.1"/><circle cx="626.5" cy="190.5" r="3.1"/><circle cx="605.5" cy="176.5" r="3.1"/><circle cx="588.5" cy="223.5" r="3.1"/><circle cx="622.5" cy="184.5" r="3.1"/><circle cx="339.5" cy="391.5" r="3.1"/><circle cx="308.5" cy="416.5" r="3.1"/><circle cx="323.5" cy="400.5" r="3.1"/><circle cx="327.5" cy="396.5" r="3.1"/><circle cx="331.5" cy="414.5" r="3.1"/><circle cx="337.5" cy="403.5" r="3.1"/><circle cx="355.5" cy="416.5" r="3.1"/><circle cx="347.5" cy="403.5" r="3.1"/><circle cx="291.5" cy="413.5" r="3.1"/><circle cx="299.5" cy="399.5" r="3.1"/><circle cx="318.5" cy="415.5" r="3.1"/><circle cx="306.5" cy="373.5" r="3.1"/><circle cx="346.5" cy="399.5" r="3.1"/><circle cx="307.5" cy="404.5" r="3.1"/><circle cx="321.5" cy="421.5" r="3.1"/><circle cx="300.5" cy="431.5" r="3.1"/><circle cx="316.5" cy="396.5" r="3.1"/><circle cx="295.5" cy="381.5" r="3.1"/><circle cx="278.5" cy="428.5" r="3.1"/><circle cx="312.5" cy="390.5" r="3.1"/></g>
<g fill="#ffd700"><circle cx="423.5" cy="211.5" r="3.1"/><circle cx="453.5" cy="150.5" r="3.1"/><circle cx="710.5" cy="335.5" r="3.1"/><circle cx="323.5" cy="265.5" r="3.1"/><circle cx="717.5" cy="422.5" r="3.1"/><circle cx="538.5" cy="249.5" r="3.1"/><circle cx="606.5" cy="454.5" r="3.1"/><circle cx="595.5" cy="135.5" r="3.1"/><circle cx="263.5" cy="411.5" r="3.1"/><circle cx="754.5" cy="434.5" r="3.1"/><circle cx="681.5" cy="306.5" r="3.1"/><circle cx="305.5" cy="151.5" r="3.1"/><circle cx="427.5" cy="297.5" r="3.1"/><circle cx="374.5" cy="265.5" r="3.1"/><circle cx="253.5" cy="348.5" r="3.1"/><circle cx="752.5" cy="402.5" r="3.1"/><circle cx="558.5" cy="375.5" r="3.1"/><circle cx="631.5" cy="455.5" r="3.1"/><circle cx="753.5" cy="322.5" r="3.1"/><circle cx="298.5" cy="478.5" r="3.1"/></g>
</g>
<path fill="none" stroke="#8b0000" stroke-width="2.78" d="M293.33 438.56L301.94 439.88L310.56 440.39L319.17 440.06L327.78 438.99L336.39 437.23L337.02 437.04L345 433.83L349.86 431.33L353.61 428.85L357.31 425.63L362.22 420.04L362.3 419.93L364.54 414.22L365.37 408.52L364.67 402.81L362.5 397.11L362.22 396.67L357.42 391.41L353.61 387.8L350.57 385.7L345 381.95L341.65 380L336.39 377.09L331.19 374.3L327.78 372.8L319.17 369.65L314.52 368.59L310.56 368.02L301.94 368.09L298.61 368.59L293.33 369.85L284.72 372.86L281.16 374.3L276.11 376.86L269.84 380L267.5 381.31L260.57 385.7L258.89 386.87L254.2 391.41L250.28 396.22L249.79 397.11L248.48 402.81L249.04 408.52L250.28 411.57L251.94 414.22L257.02 419.93L258.89 421.64L264.29 425.63L267.5 427.74L273.53 431.33L276.11 432.57L284.72 436.25L286.88 437.04ZM603.33 233.22L611.94 234.54L620.56 235.05L629.17 234.73L637.78 233.66L646.39 231.9L647.01 231.7L655 228.49L659.84 226L663.61 223.5L667.29 220.3L672.22 214.69L672.29 214.59L674.53 208.89L675.36 203.19L674.66 197.48L672.49 191.78L672.22 191.35L667.41 186.07L663.61 182.47L660.56 180.37L655 176.63L651.64 174.67L646.39 171.76L641.18 168.96L637.78 167.46L629.17 164.32L624.52 163.26L620.56 162.69L611.94 162.75L608.59 163.26L603.33 164.51L594.72 167.52L591.15 168.96L586.11 171.52L579.83 174.67L577.5 175.97L570.56 180.37L568.89 181.54L564.2 186.07L560.28 190.89L559.79 191.78L558.48 197.48L559.04 203.19L560.28 206.23L561.95 208.89L567.03 214.59L568.89 216.3L574.3 220.3L577.5 222.4L583.54 226L586.11 227.24L594.72 230.91L596.89 231.7Z"/>
</g>
<rect x="113.5" y="72.5" width="697" height="462" fill="none" stroke="#000" stroke-width="1.11" stroke-linecap="square" stroke-linejoin="miter"/>
<path d="M151.5 534.5V539.4M229.5 534.5V539.4M306.5 534.5V539.4M384.5 534.5V539.4M461.5 534.5V539.4M539.5 534.5V539.4M616.5 534.5V539.4M694.5 534.5V539.4M771.5 534.5V539.4M113.5 508.5H108.6M113.5 457.5H108.6M113.5 406.5H108.6M113.5 354.5H108.6M113.5 303.5H108.6M113.5 252.5H108.6M113.5 200.5H108.6M113.5 149.5H108.6M113.5 98.5H108.6" stroke="#000" stroke-width="1.11" fill="none"/>
<text y="560" class="k" style="stroke:#000;stroke-width:0.04px"><tspan x="137.06" textLength="15.87" lengthAdjust="spacingAndGlyphs">−</tspan><tspan x="152.89" textLength="12.36" lengthAdjust="spacingAndGlyphs">4</tspan></text>
<text y="560" class="k" style="stroke:#000;stroke-width:0.03px"><tspan x="215.06" textLength="15.87" lengthAdjust="spacingAndGlyphs">−</tspan><tspan x="231.66" textLength="10.79" lengthAdjust="spacingAndGlyphs">3</tspan></text>
<text y="560" class="k" style="stroke:#000;stroke-width:0.12px"><tspan x="292.06" textLength="15.87" lengthAdjust="spacingAndGlyphs">−</tspan><tspan x="308.38" textLength="11.23" lengthAdjust="spacingAndGlyphs">2</tspan></text>
<text y="560" class="k" style="stroke:#000;stroke-width:0.23px"><tspan x="370.06" textLength="15.87" lengthAdjust="spacingAndGlyphs">−</tspan><tspan x="386.95" textLength="10.58" lengthAdjust="spacingAndGlyphs">1</tspan></text>
<text y="560" class="k" style="stroke:#000;stroke-width:0.08px"><tspan x="455.57" textLength="11.87" lengthAdjust="spacingAndGlyphs">0</tspan></text>
<text y="560" class="k" style="stroke:#000;stroke-width:0.17px"><tspan x="532.77" textLength="11.87" lengthAdjust="spacingAndGlyphs">1</tspan></text>
<text y="560" class="k" style="stroke:#000;stroke-width:0.14px"><tspan x="610.38" textLength="11.23" lengthAdjust="spacingAndGlyphs">2</tspan></text>
<text y="560" class="k" style="fill:#161616"><tspan x="688.58" textLength="11.96" lengthAdjust="spacingAndGlyphs">3</tspan></text>
<text y="560" class="k" style="stroke:#000;stroke-width:0.26px"><tspan x="765.94" textLength="11.26" lengthAdjust="spacingAndGlyphs">4</tspan></text>
<text y="516" class="k" style="stroke:#000;stroke-width:0.04px"><tspan x="73.06" textLength="15.87" lengthAdjust="spacingAndGlyphs">−</tspan><tspan x="88.89" textLength="12.36" lengthAdjust="spacingAndGlyphs">4</tspan></text>
<text y="465" class="k" style="stroke:#000;stroke-width:0.03px"><tspan x="73.06" textLength="15.87" lengthAdjust="spacingAndGlyphs">−</tspan><tspan x="89.66" textLength="10.79" lengthAdjust="spacingAndGlyphs">3</tspan></text>
<text y="414" class="k" style="stroke:#000;stroke-width:0.12px"><tspan x="73.06" textLength="15.87" lengthAdjust="spacingAndGlyphs">−</tspan><tspan x="89.38" textLength="11.23" lengthAdjust="spacingAndGlyphs">2</tspan></text>
<text y="362" class="k" style="stroke:#000;stroke-width:0.23px"><tspan x="73.06" textLength="15.87" lengthAdjust="spacingAndGlyphs">−</tspan><tspan x="89.95" textLength="10.58" lengthAdjust="spacingAndGlyphs">1</tspan></text>
<text y="311" class="k" style="stroke:#000;stroke-width:0.08px"><tspan x="90.57" textLength="11.87" lengthAdjust="spacingAndGlyphs">0</tspan></text>
<text y="260" class="k" style="stroke:#000;stroke-width:0.15px"><tspan x="90.77" textLength="11.87" lengthAdjust="spacingAndGlyphs">1</tspan></text>
<text y="208" class="k" style="stroke:#000;stroke-width:0.14px"><tspan x="90.38" textLength="11.23" lengthAdjust="spacingAndGlyphs">2</tspan></text>
<text y="157" class="k" style="fill:#161616"><tspan x="90.58" textLength="11.96" lengthAdjust="spacingAndGlyphs">3</tspan></text>
<text y="106" class="k" style="stroke:#000;stroke-width:0.26px"><tspan x="90.94" textLength="11.26" lengthAdjust="spacingAndGlyphs">4</tspan></text>
<text y="64" style="font-size:26.00px"><tspan style="stroke:#000;stroke-width:0.05px"><tspan x="367.29" textLength="19.22" lengthAdjust="spacingAndGlyphs">O</tspan><tspan x="387.22" textLength="14.99" lengthAdjust="spacingAndGlyphs">n</tspan><tspan x="402.82" textLength="15.02" lengthAdjust="spacingAndGlyphs">e</tspan><tspan x="417.99" textLength="8.97" lengthAdjust="spacingAndGlyphs">-</tspan><tspan x="427.14" textLength="16.90" lengthAdjust="spacingAndGlyphs">C</tspan><tspan x="445.07" textLength="5.68" lengthAdjust="spacingAndGlyphs">l</tspan><tspan x="451.66" textLength="13.01" lengthAdjust="spacingAndGlyphs">a</tspan><tspan x="467.39" textLength="11.98" lengthAdjust="spacingAndGlyphs">s</tspan><tspan x="480.42" textLength="11.98" lengthAdjust="spacingAndGlyphs">s</tspan></tspan> <tspan style="stroke:#000;stroke-width:0.08px"><tspan x="500.89" textLength="15.61" lengthAdjust="spacingAndGlyphs">S</tspan><tspan x="516.58" textLength="16.92" lengthAdjust="spacingAndGlyphs">V</tspan><tspan x="534.01" textLength="20.76" lengthAdjust="spacingAndGlyphs">M</tspan></tspan></text>
<text y="585"><tspan style="fill:#080808"><tspan x="66.38" textLength="12.51" lengthAdjust="spacingAndGlyphs">e</tspan><tspan x="79.15" textLength="8.89" lengthAdjust="spacingAndGlyphs">r</tspan><tspan x="87.36" textLength="8.89" lengthAdjust="spacingAndGlyphs">r</tspan><tspan x="95.54" textLength="12.32" lengthAdjust="spacingAndGlyphs">o</tspan><tspan x="108.21" textLength="8.89" lengthAdjust="spacingAndGlyphs">r</tspan></tspan> <tspan style="stroke:#000;stroke-width:0.03px"><tspan x="123.27" textLength="7.74" lengthAdjust="spacingAndGlyphs">t</tspan><tspan x="131.44" textLength="8.89" lengthAdjust="spacingAndGlyphs">r</tspan><tspan x="139.93" textLength="11.21" lengthAdjust="spacingAndGlyphs">a</tspan><tspan x="153.23" textLength="4.73" lengthAdjust="spacingAndGlyphs">i</tspan><tspan x="158.89" textLength="12.49" lengthAdjust="spacingAndGlyphs">n</tspan><tspan x="172.10" textLength="6.26" lengthAdjust="spacingAndGlyphs">:</tspan></tspan> <tspan style="stroke:#000;stroke-width:0.04px"><tspan x="186.32" textLength="11.53" lengthAdjust="spacingAndGlyphs">5</tspan><tspan x="199.34" textLength="12.21" lengthAdjust="spacingAndGlyphs">0</tspan><tspan x="212.10" textLength="7.02" lengthAdjust="spacingAndGlyphs">/</tspan><tspan x="219.83" textLength="11.67" lengthAdjust="spacingAndGlyphs">1</tspan><tspan x="232.93" textLength="12.21" lengthAdjust="spacingAndGlyphs">0</tspan><tspan x="246.22" textLength="12.21" lengthAdjust="spacingAndGlyphs">0</tspan><tspan x="259.50" textLength="12.21" lengthAdjust="spacingAndGlyphs">0</tspan><tspan x="271.47" textLength="7.78" lengthAdjust="spacingAndGlyphs">;</tspan></tspan> <tspan style="fill:#050505"><tspan x="285.46" textLength="12.51" lengthAdjust="spacingAndGlyphs">e</tspan><tspan x="298.23" textLength="8.89" lengthAdjust="spacingAndGlyphs">r</tspan><tspan x="306.43" textLength="8.89" lengthAdjust="spacingAndGlyphs">r</tspan><tspan x="314.62" textLength="12.32" lengthAdjust="spacingAndGlyphs">o</tspan><tspan x="327.29" textLength="8.89" lengthAdjust="spacingAndGlyphs">r</tspan><tspan x="336.28" textLength="10.08" lengthAdjust="spacingAndGlyphs">s</tspan></tspan> <tspan style="stroke:#000;stroke-width:0.04px"><tspan x="353.94" textLength="12.49" lengthAdjust="spacingAndGlyphs">n</tspan><tspan x="366.99" textLength="12.32" lengthAdjust="spacingAndGlyphs">o</tspan><tspan x="380.08" textLength="11.24" lengthAdjust="spacingAndGlyphs">v</tspan><tspan x="392.09" textLength="12.51" lengthAdjust="spacingAndGlyphs">e</tspan><tspan x="405.26" textLength="4.73" lengthAdjust="spacingAndGlyphs">l</tspan></tspan> <tspan style="stroke:#000;stroke-width:0.01px"><tspan x="417.28" textLength="8.89" lengthAdjust="spacingAndGlyphs">r</tspan><tspan x="425.43" textLength="12.51" lengthAdjust="spacingAndGlyphs">e</tspan><tspan x="438.28" textLength="12.59" lengthAdjust="spacingAndGlyphs">g</tspan><tspan x="451.64" textLength="12.49" lengthAdjust="spacingAndGlyphs">u</tspan><tspan x="465.09" textLength="4.73" lengthAdjust="spacingAndGlyphs">l</tspan><tspan x="470.39" textLength="11.21" lengthAdjust="spacingAndGlyphs">a</tspan><tspan x="483.28" textLength="8.89" lengthAdjust="spacingAndGlyphs">r</tspan><tspan x="491.75" textLength="6.26" lengthAdjust="spacingAndGlyphs">:</tspan></tspan> <tspan style="stroke:#000;stroke-width:0.05px"><tspan x="505.60" textLength="12.21" lengthAdjust="spacingAndGlyphs">0</tspan><tspan x="518.36" textLength="7.02" lengthAdjust="spacingAndGlyphs">/</tspan><tspan x="525.91" textLength="12.22" lengthAdjust="spacingAndGlyphs">4</tspan><tspan x="539.19" textLength="12.21" lengthAdjust="spacingAndGlyphs">0</tspan><tspan x="551.17" textLength="7.78" lengthAdjust="spacingAndGlyphs">;</tspan></tspan> <tspan style="fill:#050505"><tspan x="565.46" textLength="12.51" lengthAdjust="spacingAndGlyphs">e</tspan><tspan x="578.23" textLength="8.89" lengthAdjust="spacingAndGlyphs">r</tspan><tspan x="586.43" textLength="8.89" lengthAdjust="spacingAndGlyphs">r</tspan><tspan x="594.62" textLength="12.32" lengthAdjust="spacingAndGlyphs">o</tspan><tspan x="607.29" textLength="8.89" lengthAdjust="spacingAndGlyphs">r</tspan><tspan x="616.28" textLength="10.08" lengthAdjust="spacingAndGlyphs">s</tspan></tspan> <tspan style="stroke:#000;stroke-width:0.04px"><tspan x="633.94" textLength="12.49" lengthAdjust="spacingAndGlyphs">n</tspan><tspan x="646.99" textLength="12.32" lengthAdjust="spacingAndGlyphs">o</tspan><tspan x="660.08" textLength="11.24" lengthAdjust="spacingAndGlyphs">v</tspan><tspan x="672.09" textLength="12.51" lengthAdjust="spacingAndGlyphs">e</tspan><tspan x="685.26" textLength="4.73" lengthAdjust="spacingAndGlyphs">l</tspan></tspan> <tspan style="stroke:#000;stroke-width:0.03px"><tspan x="697.02" textLength="11.21" lengthAdjust="spacingAndGlyphs">a</tspan><tspan x="710.21" textLength="12.61" lengthAdjust="spacingAndGlyphs">b</tspan><tspan x="723.43" textLength="12.49" lengthAdjust="spacingAndGlyphs">n</tspan><tspan x="736.48" textLength="12.32" lengthAdjust="spacingAndGlyphs">o</tspan><tspan x="749.16" textLength="8.89" lengthAdjust="spacingAndGlyphs">r</tspan><tspan x="757.56" textLength="19.77" lengthAdjust="spacingAndGlyphs">m</tspan><tspan x="777.61" textLength="11.21" lengthAdjust="spacingAndGlyphs">a</tspan><tspan x="790.90" textLength="4.73" lengthAdjust="spacingAndGlyphs">l</tspan><tspan x="796.55" textLength="6.26" lengthAdjust="spacingAndGlyphs">:</tspan></tspan> <tspan style="stroke:#000;stroke-width:0.04px"><tspan x="810.31" textLength="11.67" lengthAdjust="spacingAndGlyphs">1</tspan><tspan x="822.90" textLength="7.02" lengthAdjust="spacingAndGlyphs">/</tspan><tspan x="830.40" textLength="11.77" lengthAdjust="spacingAndGlyphs">2</tspan><tspan x="843.73" textLength="12.21" lengthAdjust="spacingAndGlyphs">0</tspan></tspan></text>
<rect x="123.5" y="82.5" width="365" height="128" rx="4.17" ry="4.17" fill="#fff" fill-opacity="0.8" stroke="#ccc" stroke-opacity="0.8" stroke-width="1.39"/>
<path d="M129.96 99H174.04" stroke="#8b0000" stroke-width="2.08"/>
<g stroke="#000" stroke-width="1.39"><circle cx="152.5" cy="132.5" r="3.1" fill="#ffffff"/><circle cx="152.5" cy="162.5" r="3.1" fill="#8a2be2"/><circle cx="152.5" cy="193.5" r="3.1" fill="#ffd700"/></g>
<text y="107"><tspan style="stroke:#000;stroke-width:0.03px"><tspan x="190.52" textLength="4.73" lengthAdjust="spacingAndGlyphs">l</tspan><tspan x="195.99" textLength="12.51" lengthAdjust="spacingAndGlyphs">e</tspan><tspan x="208.67" textLength="11.21" lengthAdjust="spacingAndGlyphs">a</tspan><tspan x="221.55" textLength="8.89" lengthAdjust="spacingAndGlyphs">r</tspan><tspan x="230.04" textLength="12.49" lengthAdjust="spacingAndGlyphs">n</tspan><tspan x="243.06" textLength="12.51" lengthAdjust="spacingAndGlyphs">e</tspan><tspan x="255.91" textLength="12.59" lengthAdjust="spacingAndGlyphs">d</tspan></tspan> <tspan style="fill:#060606"><tspan x="275.94" textLength="7.60" lengthAdjust="spacingAndGlyphs">f</tspan><tspan x="283.32" textLength="8.89" lengthAdjust="spacingAndGlyphs">r</tspan><tspan x="291.50" textLength="12.32" lengthAdjust="spacingAndGlyphs">o</tspan><tspan x="304.45" textLength="12.49" lengthAdjust="spacingAndGlyphs">n</tspan><tspan x="317.42" textLength="7.74" lengthAdjust="spacingAndGlyphs">t</tspan><tspan x="326.00" textLength="4.73" lengthAdjust="spacingAndGlyphs">i</tspan><tspan x="331.46" textLength="12.51" lengthAdjust="spacingAndGlyphs">e</tspan><tspan x="344.23" textLength="8.89" lengthAdjust="spacingAndGlyphs">r</tspan></tspan></text>
<text y="137"><tspan style="fill:#010101"><tspan x="189.88" textLength="7.74" lengthAdjust="spacingAndGlyphs">t</tspan><tspan x="198.05" textLength="8.89" lengthAdjust="spacingAndGlyphs">r</tspan><tspan x="206.54" textLength="11.21" lengthAdjust="spacingAndGlyphs">a</tspan><tspan x="219.84" textLength="4.73" lengthAdjust="spacingAndGlyphs">i</tspan><tspan x="225.50" textLength="12.49" lengthAdjust="spacingAndGlyphs">n</tspan><tspan x="238.87" textLength="4.73" lengthAdjust="spacingAndGlyphs">i</tspan><tspan x="244.53" textLength="12.49" lengthAdjust="spacingAndGlyphs">n</tspan><tspan x="257.56" textLength="12.59" lengthAdjust="spacingAndGlyphs">g</tspan></tspan> <tspan style="stroke:#000;stroke-width:0.04px"><tspan x="277.50" textLength="12.32" lengthAdjust="spacingAndGlyphs">o</tspan><tspan x="290.48" textLength="12.61" lengthAdjust="spacingAndGlyphs">b</tspan><tspan x="303.83" textLength="10.08" lengthAdjust="spacingAndGlyphs">s</tspan><tspan x="314.37" textLength="12.51" lengthAdjust="spacingAndGlyphs">e</tspan><tspan x="327.14" textLength="8.89" lengthAdjust="spacingAndGlyphs">r</tspan><tspan x="336.15" textLength="11.24" lengthAdjust="spacingAndGlyphs">v</tspan><tspan x="347.98" textLength="11.21" lengthAdjust="spacingAndGlyphs">a</tspan><tspan x="360.89" textLength="7.74" lengthAdjust="spacingAndGlyphs">t</tspan><tspan x="369.47" textLength="4.73" lengthAdjust="spacingAndGlyphs">i</tspan><tspan x="374.95" textLength="12.32" lengthAdjust="spacingAndGlyphs">o</tspan><tspan x="387.91" textLength="12.49" lengthAdjust="spacingAndGlyphs">n</tspan><tspan x="401.26" textLength="10.08" lengthAdjust="spacingAndGlyphs">s</tspan></tspan></text>
<text y="168"><tspan style="stroke:#000;stroke-width:0.13px"><tspan x="190.34" textLength="12.49" lengthAdjust="spacingAndGlyphs">n</tspan><tspan x="203.36" textLength="12.51" lengthAdjust="spacingAndGlyphs">e</tspan><tspan x="216.91" textLength="15.21" lengthAdjust="spacingAndGlyphs">w</tspan></tspan> <tspan style="fill:#020202"><tspan x="239.89" textLength="8.89" lengthAdjust="spacingAndGlyphs">r</tspan><tspan x="248.05" textLength="12.51" lengthAdjust="spacingAndGlyphs">e</tspan><tspan x="260.90" textLength="12.59" lengthAdjust="spacingAndGlyphs">g</tspan><tspan x="274.26" textLength="12.49" lengthAdjust="spacingAndGlyphs">u</tspan><tspan x="287.71" textLength="4.73" lengthAdjust="spacingAndGlyphs">l</tspan><tspan x="293.01" textLength="11.21" lengthAdjust="spacingAndGlyphs">a</tspan><tspan x="305.89" textLength="8.89" lengthAdjust="spacingAndGlyphs">r</tspan></tspan> <tspan style="stroke:#000;stroke-width:0.04px"><tspan x="321.00" textLength="12.32" lengthAdjust="spacingAndGlyphs">o</tspan><tspan x="333.98" textLength="12.61" lengthAdjust="spacingAndGlyphs">b</tspan><tspan x="347.33" textLength="10.08" lengthAdjust="spacingAndGlyphs">s</tspan><tspan x="357.87" textLength="12.51" lengthAdjust="spacingAndGlyphs">e</tspan><tspan x="370.64" textLength="8.89" lengthAdjust="spacingAndGlyphs">r</tspan><tspan x="379.65" textLength="11.24" lengthAdjust="spacingAndGlyphs">v</tspan><tspan x="391.48" textLength="11.21" lengthAdjust="spacingAndGlyphs">a</tspan><tspan x="404.39" textLength="7.74" lengthAdjust="spacingAndGlyphs">t</tspan><tspan x="412.97" textLength="4.73" lengthAdjust="spacingAndGlyphs">i</tspan><tspan x="418.45" textLength="12.32" lengthAdjust="spacingAndGlyphs">o</tspan><tspan x="431.41" textLength="12.49" lengthAdjust="spacingAndGlyphs">n</tspan><tspan x="444.76" textLength="10.08" lengthAdjust="spacingAndGlyphs">s</tspan></tspan></text>
<text y="198"><tspan style="stroke:#000;stroke-width:0.13px"><tspan x="190.34" textLength="12.49" lengthAdjust="spacingAndGlyphs">n</tspan><tspan x="203.36" textLength="12.51" lengthAdjust="spacingAndGlyphs">e</tspan><tspan x="216.91" textLength="15.21" lengthAdjust="spacingAndGlyphs">w</tspan></tspan> <tspan style="stroke:#000;stroke-width:0.01px"><tspan x="239.80" textLength="11.21" lengthAdjust="spacingAndGlyphs">a</tspan><tspan x="252.99" textLength="12.61" lengthAdjust="spacingAndGlyphs">b</tspan><tspan x="266.21" textLength="12.49" lengthAdjust="spacingAndGlyphs">n</tspan><tspan x="279.26" textLength="12.32" lengthAdjust="spacingAndGlyphs">o</tspan><tspan x="291.93" textLength="8.89" lengthAdjust="spacingAndGlyphs">r</tspan><tspan x="300.34" textLength="19.77" lengthAdjust="spacingAndGlyphs">m</tspan><tspan x="320.38" textLength="11.21" lengthAdjust="spacingAndGlyphs">a</tspan><tspan x="333.67" textLength="4.73" lengthAdjust="spacingAndGlyphs">l</tspan></tspan> <tspan style="stroke:#000;stroke-width:0.04px"><tspan x="345.50" textLength="12.32" lengthAdjust="spacingAndGlyphs">o</tspan><tspan x="358.48" textLength="12.61" lengthAdjust="spacingAndGlyphs">b</tspan><tspan x="371.83" textLength="10.08" lengthAdjust="spacingAndGlyphs">s</tspan><tspan x="382.37" textLength="12.51" lengthAdjust="spacingAndGlyphs">e</tspan><tspan x="395.14" textLength="8.89" lengthAdjust="spacingAndGlyphs">r</tspan><tspan x="404.15" textLength="11.24" lengthAdjust="spacingAndGlyphs">v</tspan><tspan x="415.98" textLength="11.21" lengthAdjust="spacingAndGlyphs">a</tspan><tspan x="428.89" textLength="7.74" lengthAdjust="spacingAndGlyphs">t</tspan><tspan x="437.47" textLength="4.73" lengthAdjust="spacingAndGlyphs">i</tspan><tspan x="442.95" textLength="12.32" lengthAdjust="spacingAndGlyphs">o</tspan><tspan x="455.91" textLength="12.49" lengthAdjust="spacingAndGlyphs">n</tspan><tspan x="469.26" textLength="10.08" lengthAdjust="spacingAndGlyphs">s</tspan></tspan></text>
</svg>
</body></html>
